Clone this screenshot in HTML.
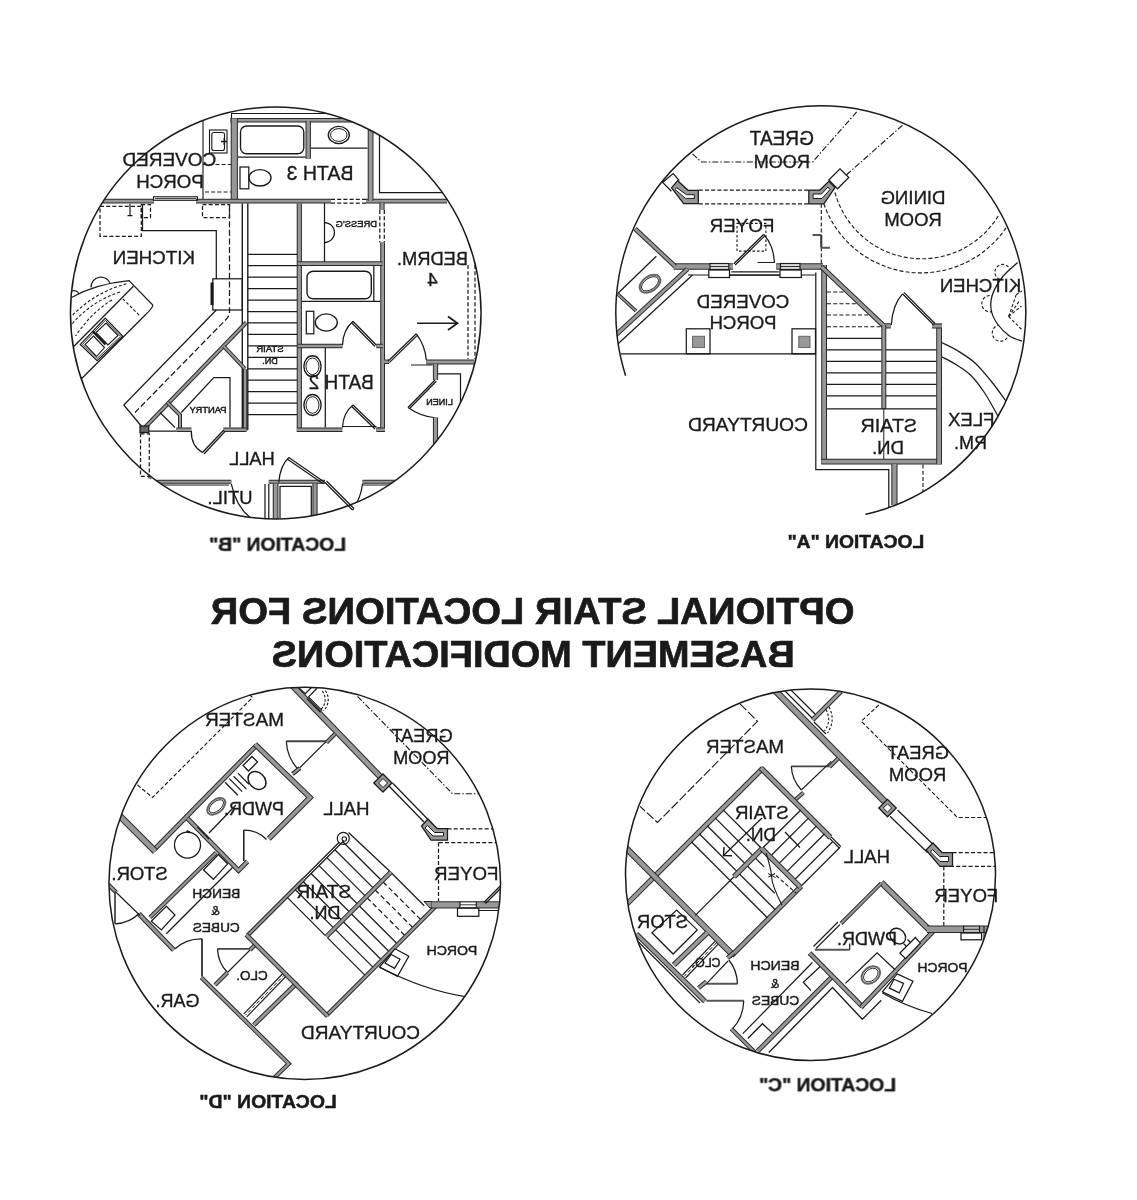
<!DOCTYPE html>
<html><head><meta charset="utf-8"><title>Optional Stair Locations</title>
<style>html,body{margin:0;padding:0;background:#fff}svg{display:block}text{font-family:"Liberation Sans",sans-serif}</style></head><body>
<svg width="1137" height="1200" viewBox="0 0 1137 1200">
<rect width="1137" height="1200" fill="#fff"/>
<g opacity="0.999">
<defs>
<clipPath id="ccircB"><ellipse cx="275.75" cy="313" rx="205.3" ry="206"/></clipPath>
<clipPath id="ccircA"><ellipse cx="820.8" cy="312.5" rx="205" ry="206.8"/></clipPath>
<clipPath id="ccircD"><ellipse cx="304.75" cy="883.45" rx="195.8" ry="196.1"/></clipPath>
<clipPath id="ccircC"><ellipse cx="810.5" cy="874.8" rx="185" ry="185.8"/></clipPath>
</defs>
<g clip-path="url(#ccircB)">
<polyline points="231.00,113.50 420.00,113.50" fill="none" stroke="#1a1a1a" stroke-width="1.125" stroke-linecap="butt" stroke-linejoin="miter"/>
<polyline points="231.50,113.50 231.50,119.00" fill="none" stroke="#1a1a1a" stroke-width="1.125" stroke-linecap="butt" stroke-linejoin="miter"/>
<polyline points="230.50,120.30 420.00,120.30" fill="none" stroke="#2a2a2a" stroke-width="4.4" stroke-linecap="butt" stroke-linejoin="miter"/><polyline points="230.50,120.30 420.00,120.30" fill="none" stroke="#989898" stroke-width="2.40" stroke-linecap="butt" stroke-linejoin="miter"/>
<polyline points="234.30,118.50 234.30,201.00" fill="none" stroke="#2a2a2a" stroke-width="7.2" stroke-linecap="butt" stroke-linejoin="miter"/><polyline points="234.30,118.50 234.30,201.00" fill="none" stroke="#989898" stroke-width="5.20" stroke-linecap="butt" stroke-linejoin="miter"/>
<polyline points="102.00,201.20 154.00,201.20" fill="none" stroke="#2a2a2a" stroke-width="4.8" stroke-linecap="butt" stroke-linejoin="miter"/><polyline points="102.00,201.20 154.00,201.20" fill="none" stroke="#989898" stroke-width="2.80" stroke-linecap="butt" stroke-linejoin="miter"/>
<polyline points="196.00,201.20 331.00,201.20" fill="none" stroke="#2a2a2a" stroke-width="4.8" stroke-linecap="butt" stroke-linejoin="miter"/><polyline points="196.00,201.20 331.00,201.20" fill="none" stroke="#989898" stroke-width="2.80" stroke-linecap="butt" stroke-linejoin="miter"/>
<polyline points="366.00,201.20 447.00,201.20" fill="none" stroke="#2a2a2a" stroke-width="4.8" stroke-linecap="butt" stroke-linejoin="miter"/><polyline points="366.00,201.20 447.00,201.20" fill="none" stroke="#989898" stroke-width="2.80" stroke-linecap="butt" stroke-linejoin="miter"/>
<polyline points="331.00,199.30 366.00,199.30" fill="none" stroke="#1a1a1a" stroke-width="1.25" stroke-dasharray="4,2.2" stroke-linecap="butt" stroke-linejoin="miter"/>
<polyline points="331.00,203.20 366.00,203.20" fill="none" stroke="#1a1a1a" stroke-width="1.25" stroke-dasharray="4,2.2" stroke-linecap="butt" stroke-linejoin="miter"/>
<rect x="153.50" y="196.80" width="44.00" height="3.50" rx="0" fill="none" stroke="#1a1a1a" stroke-width="1.125"/>
<polyline points="155.00,198.60 196.00,198.60" fill="none" stroke="#1a1a1a" stroke-width="0.875" stroke-linecap="butt" stroke-linejoin="miter"/>
<polyline points="308.20,121.00 308.20,158.80" fill="none" stroke="#2a2a2a" stroke-width="5.4" stroke-linecap="butt" stroke-linejoin="miter"/><polyline points="308.20,121.00 308.20,158.80" fill="none" stroke="#989898" stroke-width="3.40" stroke-linecap="butt" stroke-linejoin="miter"/>
<polyline points="311.00,148.00 367.50,148.00" fill="none" stroke="#1a1a1a" stroke-width="1.25" stroke-linecap="butt" stroke-linejoin="miter"/>
<polyline points="370.60,129.00 370.60,201.00" fill="none" stroke="#2a2a2a" stroke-width="5.8" stroke-linecap="butt" stroke-linejoin="miter"/><polyline points="370.60,129.00 370.60,201.00" fill="none" stroke="#989898" stroke-width="3.80" stroke-linecap="butt" stroke-linejoin="miter"/>
<polyline points="379.50,130.00 379.50,192.50 445.00,192.50" fill="none" stroke="#1a1a1a" stroke-width="1.25" stroke-linecap="butt" stroke-linejoin="miter"/>
<rect x="240.50" y="126.00" width="63.30" height="27.80" rx="6" fill="none" stroke="#1a1a1a" stroke-width="1.375"/>
<polyline points="238.00,157.00 305.50,157.00" fill="none" stroke="#1a1a1a" stroke-width="1.25" stroke-linecap="butt" stroke-linejoin="miter"/>
<rect x="240.00" y="167.00" width="8.80" height="21.80" rx="0" fill="none" stroke="#1a1a1a" stroke-width="1.25"/>
<ellipse cx="260.00" cy="177.80" rx="11.00" ry="8.20" fill="none" stroke="#1a1a1a" stroke-width="1.375"/>
<ellipse cx="338.80" cy="135.00" rx="10.50" ry="8.60" fill="none" stroke="#1a1a1a" stroke-width="1.375"/>
<ellipse cx="338.80" cy="135.00" rx="8.20" ry="6.40" fill="none" stroke="#1a1a1a" stroke-width="1.0"/>
<rect x="209.50" y="130.00" width="17.50" height="23.00" rx="0" fill="none" stroke="#1a1a1a" stroke-width="1.125"/>
<rect x="211.80" y="132.50" width="12.70" height="18.00" rx="2" fill="none" stroke="#1a1a1a" stroke-width="1.125"/>
<polyline points="221.00,141.50 227.00,141.50" fill="none" stroke="#1a1a1a" stroke-width="1.5" stroke-linecap="butt" stroke-linejoin="miter"/>
<polyline points="224.30,138.00 224.30,145.00" fill="none" stroke="#1a1a1a" stroke-width="1.5" stroke-linecap="butt" stroke-linejoin="miter"/>
<polyline points="203.00,112.00 203.00,199.00" fill="none" stroke="#1a1a1a" stroke-width="1.125" stroke-linecap="butt" stroke-linejoin="miter"/>
<polyline points="203.00,164.50 231.00,164.50" fill="none" stroke="#1a1a1a" stroke-width="1.125" stroke-dasharray="4,2.2" stroke-linecap="butt" stroke-linejoin="miter"/>
<polyline points="205.00,192.00 231.00,192.00" fill="none" stroke="#1a1a1a" stroke-width="1.125" stroke-dasharray="4,2.2" stroke-linecap="butt" stroke-linejoin="miter"/>
<polyline points="242.30,203.50 242.30,430.00" fill="none" stroke="#1a1a1a" stroke-width="1.375" stroke-linecap="butt" stroke-linejoin="miter"/>
<polyline points="247.80,203.50 247.80,430.00" fill="none" stroke="#1a1a1a" stroke-width="1.375" stroke-linecap="butt" stroke-linejoin="miter"/>
<polyline points="299.30,203.50 299.30,432.00" fill="none" stroke="#2a2a2a" stroke-width="5.2" stroke-linecap="butt" stroke-linejoin="miter"/><polyline points="299.30,203.50 299.30,432.00" fill="none" stroke="#989898" stroke-width="3.20" stroke-linecap="butt" stroke-linejoin="miter"/>
<polyline points="247.80,254.25 297.00,254.25" fill="none" stroke="#1a1a1a" stroke-width="1.25" stroke-linecap="butt" stroke-linejoin="miter"/>
<polyline points="247.80,265.70 297.00,265.70" fill="none" stroke="#1a1a1a" stroke-width="1.25" stroke-linecap="butt" stroke-linejoin="miter"/>
<polyline points="247.80,277.15 297.00,277.15" fill="none" stroke="#1a1a1a" stroke-width="1.25" stroke-linecap="butt" stroke-linejoin="miter"/>
<polyline points="247.80,288.60 297.00,288.60" fill="none" stroke="#1a1a1a" stroke-width="1.25" stroke-linecap="butt" stroke-linejoin="miter"/>
<polyline points="247.80,300.05 297.00,300.05" fill="none" stroke="#1a1a1a" stroke-width="1.25" stroke-linecap="butt" stroke-linejoin="miter"/>
<polyline points="247.80,311.50 297.00,311.50" fill="none" stroke="#1a1a1a" stroke-width="1.25" stroke-linecap="butt" stroke-linejoin="miter"/>
<polyline points="247.80,322.95 297.00,322.95" fill="none" stroke="#1a1a1a" stroke-width="1.25" stroke-linecap="butt" stroke-linejoin="miter"/>
<polyline points="247.80,334.40 297.00,334.40" fill="none" stroke="#1a1a1a" stroke-width="1.25" stroke-linecap="butt" stroke-linejoin="miter"/>
<polyline points="247.80,345.85 297.00,345.85" fill="none" stroke="#1a1a1a" stroke-width="1.25" stroke-linecap="butt" stroke-linejoin="miter"/>
<polyline points="247.80,357.30 297.00,357.30" fill="none" stroke="#1a1a1a" stroke-width="1.25" stroke-linecap="butt" stroke-linejoin="miter"/>
<polyline points="247.80,368.75 297.00,368.75" fill="none" stroke="#1a1a1a" stroke-width="1.25" stroke-linecap="butt" stroke-linejoin="miter"/>
<polyline points="247.80,380.20 297.00,380.20" fill="none" stroke="#1a1a1a" stroke-width="1.25" stroke-linecap="butt" stroke-linejoin="miter"/>
<polyline points="247.80,391.65 297.00,391.65" fill="none" stroke="#1a1a1a" stroke-width="1.25" stroke-linecap="butt" stroke-linejoin="miter"/>
<polyline points="247.80,403.10 297.00,403.10" fill="none" stroke="#1a1a1a" stroke-width="1.25" stroke-linecap="butt" stroke-linejoin="miter"/>
<polyline points="247.80,414.55 297.00,414.55" fill="none" stroke="#1a1a1a" stroke-width="1.25" stroke-linecap="butt" stroke-linejoin="miter"/>
<polyline points="245.10,369.00 245.10,431.00" fill="none" stroke="#2a2a2a" stroke-width="4.4" stroke-linecap="butt" stroke-linejoin="miter"/><polyline points="245.10,369.00 245.10,431.00" fill="none" stroke="#989898" stroke-width="2.40" stroke-linecap="butt" stroke-linejoin="miter"/>
<polyline points="223.50,429.70 246.50,429.70" fill="none" stroke="#2a2a2a" stroke-width="4.6000000000000005" stroke-linecap="butt" stroke-linejoin="miter"/><polyline points="223.50,429.70 246.50,429.70" fill="none" stroke="#989898" stroke-width="2.60" stroke-linecap="butt" stroke-linejoin="miter"/>
<polyline points="297.00,429.70 385.00,429.70" fill="none" stroke="#2a2a2a" stroke-width="4.6000000000000005" stroke-linecap="butt" stroke-linejoin="miter"/><polyline points="297.00,429.70 385.00,429.70" fill="none" stroke="#989898" stroke-width="2.60" stroke-linecap="butt" stroke-linejoin="miter"/>
<rect x="100.00" y="206.30" width="41.30" height="30.00" rx="0" fill="none" stroke="#1a1a1a" stroke-width="1.25" stroke-dasharray="4,2.2"/>
<rect x="141.30" y="204.50" width="9.20" height="13.00" rx="0" fill="none" stroke="#1a1a1a" stroke-width="1.25" stroke-dasharray="4,2.2"/>
<polyline points="130.00,204.00 130.00,215.50" fill="none" stroke="#1a1a1a" stroke-width="1.25" stroke-linecap="butt" stroke-linejoin="miter"/>
<polyline points="127.50,215.50 132.50,215.50" fill="none" stroke="#1a1a1a" stroke-width="1.25" stroke-linecap="butt" stroke-linejoin="miter"/>
<rect x="202.50" y="204.50" width="27.00" height="13.00" rx="0" fill="none" stroke="#1a1a1a" stroke-width="1.25" stroke-dasharray="4,2.2"/>
<path d="M229.5,204 L229.5,312 Q229.5,316 226,319.5 L135,412.5" fill="none" stroke="#1a1a1a" stroke-width="1.25" stroke-dasharray="6,2.6"/>
<polyline points="142.50,204.00 142.50,230.50 216.30,230.50 216.30,279.00" fill="none" stroke="#1a1a1a" stroke-width="1.25" stroke-linecap="butt" stroke-linejoin="miter"/>
<rect x="212.80" y="278.80" width="29.50" height="31.20" rx="0" fill="none" stroke="#1a1a1a" stroke-width="1.25"/>
<polyline points="212.00,282.50 212.00,305.00" fill="none" stroke="#1a1a1a" stroke-width="3.0" stroke-linecap="butt" stroke-linejoin="miter"/>
<polyline points="216.30,310.00 123.80,405.00 142.50,427.50" fill="none" stroke="#1a1a1a" stroke-width="1.25" stroke-linecap="butt" stroke-linejoin="miter"/>
<path d="M71.5,297.5 Q95,284 129,280.6 L152.8,305 Q153.5,307 144,316.3 L81.5,378.8" fill="none" stroke="#1a1a1a" stroke-width="1.25"/>
<polyline points="133.40,286.30 74.00,346.30" fill="none" stroke="#1a1a1a" stroke-width="1.25" stroke-linecap="butt" stroke-linejoin="miter"/>
<polyline points="122.80,298.80 140.30,316.30" fill="none" stroke="#1a1a1a" stroke-width="1.125" stroke-dasharray="3,2" stroke-linecap="butt" stroke-linejoin="miter"/>
<path d="M126.5,283.8 Q95,292 71.5,316.3" fill="none" stroke="#1a1a1a" stroke-width="1.125" stroke-dasharray="3,2"/>
<path d="M120,292 Q92,301 72,324" fill="none" stroke="#1a1a1a" stroke-width="1.125" stroke-dasharray="3,2"/>
<path d="M112,300 Q92,312 75.5,336" fill="none" stroke="#1a1a1a" stroke-width="1.125" stroke-dasharray="3,2"/>
<path d="M91,287.5 A10,10 0 0 1 110.5,284" fill="none" stroke="#1a1a1a" stroke-width="1.25"/>
<path d="M71.8,291 A5.5,5.5 0 0 1 79,294" fill="none" stroke="#1a1a1a" stroke-width="1.25"/>
<polygon points="105.30,318.10 122.80,336.30 97.10,360.60 80.30,344.40" fill="none" stroke="#1a1a1a" stroke-width="1.25" stroke-linecap="butt" stroke-linejoin="miter"/>
<polygon points="105.30,320.30 120.60,336.30 97.10,358.40 82.50,344.40" fill="none" stroke="#1a1a1a" stroke-width="0.875" stroke-linecap="butt" stroke-linejoin="miter"/>
<polygon points="106.00,323.00 118.00,335.50 108.00,345.00 96.00,332.50" fill="none" stroke="#1a1a1a" stroke-width="1.125" stroke-linecap="butt" stroke-linejoin="miter"/>
<polygon points="93.50,336.00 104.50,347.50 96.50,356.50 85.00,344.50" fill="none" stroke="#1a1a1a" stroke-width="1.125" stroke-linecap="butt" stroke-linejoin="miter"/>
<polyline points="93.00,331.50 105.50,344.50" fill="none" stroke="#1a1a1a" stroke-width="2.5" stroke-linecap="butt" stroke-linejoin="miter"/>
<polyline points="246.30,322.50 142.50,430.00" fill="none" stroke="#2a2a2a" stroke-width="4.2" stroke-linecap="butt" stroke-linejoin="miter"/><polyline points="246.30,322.50 142.50,430.00" fill="none" stroke="#989898" stroke-width="2.20" stroke-linecap="butt" stroke-linejoin="miter"/>
<polyline points="223.80,346.30 245.00,368.80" fill="none" stroke="#2a2a2a" stroke-width="4.0" stroke-linecap="butt" stroke-linejoin="miter"/><polyline points="223.80,346.30 245.00,368.80" fill="none" stroke="#989898" stroke-width="2.00" stroke-linecap="butt" stroke-linejoin="miter"/>
<polyline points="167.50,402.50 180.00,415.00 180.00,429.00" fill="none" stroke="#2a2a2a" stroke-width="4.0" stroke-linecap="butt" stroke-linejoin="miter"/><polyline points="167.50,402.50 180.00,415.00 180.00,429.00" fill="none" stroke="#989898" stroke-width="2.00" stroke-linecap="butt" stroke-linejoin="miter"/>
<polyline points="176.30,429.70 191.30,429.70" fill="none" stroke="#2a2a2a" stroke-width="4.6000000000000005" stroke-linecap="butt" stroke-linejoin="miter"/><polyline points="176.30,429.70 191.30,429.70" fill="none" stroke="#989898" stroke-width="2.60" stroke-linecap="butt" stroke-linejoin="miter"/>
<polyline points="160.00,412.50 175.00,427.50" fill="none" stroke="#1a1a1a" stroke-width="1.25" stroke-linecap="butt" stroke-linejoin="miter"/>
<rect x="140.00" y="426.00" width="8.80" height="6.50" rx="0" fill="#666" stroke="#1a1a1a" stroke-width="1.25"/>
<polyline points="148.80,431.00 176.00,431.00" fill="none" stroke="#1a1a1a" stroke-width="1.25" stroke-linecap="butt" stroke-linejoin="miter"/>
<polyline points="230.00,427.50 230.00,377.50 213.80,377.50 181.30,412.50" fill="none" stroke="#1a1a1a" stroke-width="1.25" stroke-linecap="butt" stroke-linejoin="miter"/>
<polyline points="223.80,430.00 202.50,452.50" fill="none" stroke="#1a1a1a" stroke-width="1.25" stroke-linecap="butt" stroke-linejoin="miter"/>
<polyline points="225.00,431.50 204.00,454.00" fill="none" stroke="#1a1a1a" stroke-width="1.25" stroke-linecap="butt" stroke-linejoin="miter"/>
<path d="M202.5,452.5 Q191,446 191.3,431" fill="none" stroke="#1a1a1a" stroke-width="1.25"/>
<polyline points="148.80,481.80 231.30,481.80" fill="none" stroke="#2a2a2a" stroke-width="4.0" stroke-linecap="butt" stroke-linejoin="miter"/><polyline points="148.80,481.80 231.30,481.80" fill="none" stroke="#989898" stroke-width="2.00" stroke-linecap="butt" stroke-linejoin="miter"/>
<polyline points="155.00,485.00 229.00,485.00" fill="none" stroke="#1a1a1a" stroke-width="1.125" stroke-linecap="butt" stroke-linejoin="miter"/>
<path d="M231.3,483.8 Q236,506 250,517.5" fill="none" stroke="#1a1a1a" stroke-width="1.25"/>
<polyline points="268.80,481.80 325.00,481.80" fill="none" stroke="#2a2a2a" stroke-width="4.0" stroke-linecap="butt" stroke-linejoin="miter"/><polyline points="268.80,481.80 325.00,481.80" fill="none" stroke="#989898" stroke-width="2.00" stroke-linecap="butt" stroke-linejoin="miter"/>
<polyline points="275.60,483.50 275.60,520.00" fill="none" stroke="#2a2a2a" stroke-width="5.7" stroke-linecap="butt" stroke-linejoin="miter"/><polyline points="275.60,483.50 275.60,520.00" fill="none" stroke="#989898" stroke-width="3.70" stroke-linecap="butt" stroke-linejoin="miter"/>
<polyline points="315.00,483.50 315.00,520.00" fill="none" stroke="#2a2a2a" stroke-width="5.2" stroke-linecap="butt" stroke-linejoin="miter"/><polyline points="315.00,483.50 315.00,520.00" fill="none" stroke="#989898" stroke-width="3.20" stroke-linecap="butt" stroke-linejoin="miter"/>
<polyline points="265.00,484.00 265.00,519.00" fill="none" stroke="#1a1a1a" stroke-width="1.25" stroke-linecap="butt" stroke-linejoin="miter"/>
<polyline points="268.80,484.00 268.80,519.00" fill="none" stroke="#1a1a1a" stroke-width="1.25" stroke-linecap="butt" stroke-linejoin="miter"/>
<polyline points="280.00,518.00 280.00,486.30 311.30,486.30 311.30,518.00" fill="none" stroke="#1a1a1a" stroke-width="1.25" stroke-linecap="butt" stroke-linejoin="miter"/>
<polyline points="325.00,482.50 288.80,457.50" fill="none" stroke="#1a1a1a" stroke-width="1.25" stroke-linecap="butt" stroke-linejoin="miter"/>
<polyline points="323.50,484.00 287.50,459.30" fill="none" stroke="#1a1a1a" stroke-width="1.25" stroke-linecap="butt" stroke-linejoin="miter"/>
<path d="M288.8,457.5 Q280,466 278.8,482.5" fill="none" stroke="#1a1a1a" stroke-width="1.25"/>
<path d="M352.5,510 Q361,498 362.5,483.8" fill="none" stroke="#1a1a1a" stroke-width="1.25"/>
<polyline points="362.50,481.80 400.00,481.80" fill="none" stroke="#2a2a2a" stroke-width="4.0" stroke-linecap="butt" stroke-linejoin="miter"/><polyline points="362.50,481.80 400.00,481.80" fill="none" stroke="#989898" stroke-width="2.00" stroke-linecap="butt" stroke-linejoin="miter"/>
<polyline points="363.00,485.00 395.00,485.00" fill="none" stroke="#1a1a1a" stroke-width="1.125" stroke-linecap="butt" stroke-linejoin="miter"/>
<polyline points="324.50,203.00 324.50,262.50" fill="none" stroke="#1a1a1a" stroke-width="1.25" stroke-linecap="butt" stroke-linejoin="miter"/>
<path d="M324.5,222.5 A10,10 0 0 1 324.5,242.5" fill="none" stroke="#1a1a1a" stroke-width="1.25"/>
<polyline points="382.00,203.00 382.00,210.00" fill="none" stroke="#2a2a2a" stroke-width="5.2" stroke-linecap="butt" stroke-linejoin="miter"/><polyline points="382.00,203.00 382.00,210.00" fill="none" stroke="#989898" stroke-width="3.20" stroke-linecap="butt" stroke-linejoin="miter"/>
<polyline points="379.80,210.00 379.80,242.50" fill="none" stroke="#1a1a1a" stroke-width="1.25" stroke-dasharray="4,2.2" stroke-linecap="butt" stroke-linejoin="miter"/>
<polyline points="384.30,210.00 384.30,242.50" fill="none" stroke="#1a1a1a" stroke-width="1.25" stroke-dasharray="4,2.2" stroke-linecap="butt" stroke-linejoin="miter"/>
<polyline points="382.60,242.50 382.60,432.00" fill="none" stroke="#2a2a2a" stroke-width="4.8" stroke-linecap="butt" stroke-linejoin="miter"/><polyline points="382.60,242.50 382.60,432.00" fill="none" stroke="#989898" stroke-width="2.80" stroke-linecap="butt" stroke-linejoin="miter"/>
<polyline points="298.00,263.60 382.50,263.60" fill="none" stroke="#2a2a2a" stroke-width="4.8" stroke-linecap="butt" stroke-linejoin="miter"/><polyline points="298.00,263.60 382.50,263.60" fill="none" stroke="#989898" stroke-width="2.80" stroke-linecap="butt" stroke-linejoin="miter"/>
<rect x="307.00" y="271.30" width="64.30" height="27.50" rx="6" fill="none" stroke="#1a1a1a" stroke-width="1.375"/>
<polyline points="302.00,301.30 380.00,301.30" fill="none" stroke="#1a1a1a" stroke-width="1.25" stroke-linecap="butt" stroke-linejoin="miter"/>
<polyline points="373.80,266.00 373.80,301.30" fill="none" stroke="#1a1a1a" stroke-width="1.25" stroke-linecap="butt" stroke-linejoin="miter"/>
<rect x="306.30" y="311.30" width="7.50" height="22.50" rx="0" fill="none" stroke="#1a1a1a" stroke-width="1.25"/>
<ellipse cx="326.30" cy="322.50" rx="11.00" ry="8.60" fill="none" stroke="#1a1a1a" stroke-width="1.375"/>
<polyline points="298.00,346.00 342.50,346.00" fill="none" stroke="#2a2a2a" stroke-width="4.6000000000000005" stroke-linecap="butt" stroke-linejoin="miter"/><polyline points="298.00,346.00 342.50,346.00" fill="none" stroke="#989898" stroke-width="2.60" stroke-linecap="butt" stroke-linejoin="miter"/>
<polyline points="376.30,346.00 383.00,346.00" fill="none" stroke="#2a2a2a" stroke-width="4.6000000000000005" stroke-linecap="butt" stroke-linejoin="miter"/><polyline points="376.30,346.00 383.00,346.00" fill="none" stroke="#989898" stroke-width="2.60" stroke-linecap="butt" stroke-linejoin="miter"/>
<polyline points="376.30,345.00 353.00,321.30" fill="none" stroke="#1a1a1a" stroke-width="1.25" stroke-linecap="butt" stroke-linejoin="miter"/>
<polyline points="375.00,346.50 351.70,322.80" fill="none" stroke="#1a1a1a" stroke-width="1.25" stroke-linecap="butt" stroke-linejoin="miter"/>
<path d="M353,321.3 Q343,330 342.5,345" fill="none" stroke="#1a1a1a" stroke-width="1.25"/>
<polyline points="325.30,348.00 325.30,427.50" fill="none" stroke="#1a1a1a" stroke-width="1.25" stroke-linecap="butt" stroke-linejoin="miter"/>
<ellipse cx="312.50" cy="366.30" rx="8.60" ry="10.50" fill="none" stroke="#1a1a1a" stroke-width="1.375"/>
<ellipse cx="312.50" cy="366.30" rx="6.50" ry="8.30" fill="none" stroke="#1a1a1a" stroke-width="1.0"/>
<ellipse cx="312.50" cy="405.00" rx="8.60" ry="10.50" fill="none" stroke="#1a1a1a" stroke-width="1.375"/>
<ellipse cx="312.50" cy="405.00" rx="6.50" ry="8.30" fill="none" stroke="#1a1a1a" stroke-width="1.0"/>
<rect x="342.50" y="420.00" width="34.50" height="15.00" rx="0" fill="#fff" stroke="none" stroke-width="0.0"/>
<polyline points="342.50,426.50 376.30,426.50" fill="none" stroke="#1a1a1a" stroke-width="1.125" stroke-linecap="butt" stroke-linejoin="miter"/>
<polyline points="376.30,429.70 385.00,429.70" fill="none" stroke="#2a2a2a" stroke-width="4.6000000000000005" stroke-linecap="butt" stroke-linejoin="miter"/><polyline points="376.30,429.70 385.00,429.70" fill="none" stroke="#989898" stroke-width="2.60" stroke-linecap="butt" stroke-linejoin="miter"/>
<polyline points="376.30,427.50 353.00,405.00" fill="none" stroke="#1a1a1a" stroke-width="1.25" stroke-linecap="butt" stroke-linejoin="miter"/>
<polyline points="375.00,429.00 351.70,406.50" fill="none" stroke="#1a1a1a" stroke-width="1.25" stroke-linecap="butt" stroke-linejoin="miter"/>
<path d="M353,405 Q343,413 342.5,427.5" fill="none" stroke="#1a1a1a" stroke-width="1.25"/>
<polyline points="384.00,361.80 389.00,361.80" fill="none" stroke="#2a2a2a" stroke-width="4.6000000000000005" stroke-linecap="butt" stroke-linejoin="miter"/><polyline points="384.00,361.80 389.00,361.80" fill="none" stroke="#989898" stroke-width="2.60" stroke-linecap="butt" stroke-linejoin="miter"/>
<polyline points="388.00,361.30 416.30,333.80" fill="none" stroke="#1a1a1a" stroke-width="1.25" stroke-linecap="butt" stroke-linejoin="miter"/>
<polyline points="389.30,362.60 417.60,335.10" fill="none" stroke="#1a1a1a" stroke-width="1.25" stroke-linecap="butt" stroke-linejoin="miter"/>
<path d="M416.3,333.8 Q425,345 426.3,360" fill="none" stroke="#1a1a1a" stroke-width="1.25"/>
<polyline points="426.30,362.00 474.00,362.00" fill="none" stroke="#2a2a2a" stroke-width="4.8" stroke-linecap="butt" stroke-linejoin="miter"/><polyline points="426.30,362.00 474.00,362.00" fill="none" stroke="#989898" stroke-width="2.80" stroke-linecap="butt" stroke-linejoin="miter"/>
<polyline points="411.00,365.00 432.50,365.00" fill="none" stroke="#1a1a1a" stroke-width="1.125" stroke-linecap="butt" stroke-linejoin="miter"/>
<polyline points="435.50,364.00 435.50,380.00" fill="none" stroke="#2a2a2a" stroke-width="5.2" stroke-linecap="butt" stroke-linejoin="miter"/><polyline points="435.50,364.00 435.50,380.00" fill="none" stroke="#989898" stroke-width="3.20" stroke-linecap="butt" stroke-linejoin="miter"/>
<polyline points="435.50,417.50 435.50,444.00" fill="none" stroke="#2a2a2a" stroke-width="5.2" stroke-linecap="butt" stroke-linejoin="miter"/><polyline points="435.50,417.50 435.50,444.00" fill="none" stroke="#989898" stroke-width="3.20" stroke-linecap="butt" stroke-linejoin="miter"/>
<polyline points="435.00,380.00 408.00,407.50" fill="none" stroke="#1a1a1a" stroke-width="1.25" stroke-linecap="butt" stroke-linejoin="miter"/>
<polyline points="436.30,381.30 409.30,408.80" fill="none" stroke="#1a1a1a" stroke-width="1.25" stroke-linecap="butt" stroke-linejoin="miter"/>
<path d="M408,407.5 Q420,416 433.8,417.5" fill="none" stroke="#1a1a1a" stroke-width="1.25"/>
<polyline points="438.00,373.80 460.50,373.80 460.50,420.00" fill="none" stroke="#1a1a1a" stroke-width="1.25" stroke-linecap="butt" stroke-linejoin="miter"/>
<polyline points="468.00,265.00 468.00,359.00" fill="none" stroke="#1a1a1a" stroke-width="1.25" stroke-dasharray="4,2.2" stroke-linecap="butt" stroke-linejoin="miter"/>
<polyline points="475.00,265.00 475.00,359.00" fill="none" stroke="#1a1a1a" stroke-width="1.25" stroke-dasharray="4,2.2" stroke-linecap="butt" stroke-linejoin="miter"/>
<polyline points="417.00,323.30 457.00,323.30" fill="none" stroke="#1a1a1a" stroke-width="1.5" stroke-linecap="butt" stroke-linejoin="miter"/>
<polyline points="448.00,316.50 457.50,323.30 448.00,330.00" fill="none" stroke="#1a1a1a" stroke-width="1.75" stroke-linecap="butt" stroke-linejoin="miter"/>
</g>
<text transform="translate(169.40,166.30) scale(-1,1)" text-anchor="middle" font-size="19" textLength="93.80" lengthAdjust="spacingAndGlyphs" stroke="#1a1a1a" stroke-width="0.35" fill="#1a1a1a">COVERED</text>
<text transform="translate(170.00,187.60) scale(-1,1)" text-anchor="middle" font-size="19" textLength="67.50" lengthAdjust="spacingAndGlyphs" stroke="#1a1a1a" stroke-width="0.35" fill="#1a1a1a">PORCH</text>
<text transform="translate(153.80,264.00) scale(-1,1)" text-anchor="middle" font-size="19" textLength="82.50" lengthAdjust="spacingAndGlyphs" stroke="#1a1a1a" stroke-width="0.35" fill="#1a1a1a">KITCHEN</text>
<text transform="translate(320.00,179.50) scale(-1,1)" text-anchor="middle" font-size="19.5" textLength="66.80" lengthAdjust="spacingAndGlyphs" stroke="#1a1a1a" stroke-width="0.35" fill="#1a1a1a">BATH 3</text>
<text transform="translate(356.30,226.70) scale(-1,1)" text-anchor="middle" font-size="9.4" textLength="41.50" lengthAdjust="spacingAndGlyphs" stroke="#1a1a1a" stroke-width="0.45" fill="#1a1a1a">DRESS'G</text>
<text transform="translate(432.50,265.00) scale(-1,1)" text-anchor="middle" font-size="19" textLength="71.00" lengthAdjust="spacingAndGlyphs" stroke="#1a1a1a" stroke-width="0.35" fill="#1a1a1a">BEDRM.</text>
<text transform="translate(432.50,286.00) scale(-1,1)" text-anchor="middle" font-size="19" stroke="#1a1a1a" stroke-width="0.35" fill="#1a1a1a">4</text>
<text transform="translate(341.30,388.50) scale(-1,1)" text-anchor="middle" font-size="19.5" textLength="65.00" lengthAdjust="spacingAndGlyphs" stroke="#1a1a1a" stroke-width="0.35" fill="#1a1a1a">BATH 2</text>
<text transform="translate(439.50,405.20) scale(-1,1)" text-anchor="middle" font-size="9.4" textLength="26.80" lengthAdjust="spacingAndGlyphs" stroke="#1a1a1a" stroke-width="0.45" fill="#1a1a1a">LINEN</text>
<text transform="translate(208.00,412.70) scale(-1,1)" text-anchor="middle" font-size="8.8" textLength="37.00" lengthAdjust="spacingAndGlyphs" stroke="#1a1a1a" stroke-width="0.45" fill="#1a1a1a">PANTRY</text>
<text transform="translate(270.00,352.00) scale(-1,1)" text-anchor="middle" font-size="9" textLength="27.50" lengthAdjust="spacingAndGlyphs" stroke="#1a1a1a" stroke-width="0.45" fill="#1a1a1a">STAIR</text>
<text transform="translate(270.00,364.30) scale(-1,1)" text-anchor="middle" font-size="9" textLength="15.50" lengthAdjust="spacingAndGlyphs" stroke="#1a1a1a" stroke-width="0.45" fill="#1a1a1a">DN.</text>
<text transform="translate(252.00,464.60) scale(-1,1)" text-anchor="middle" font-size="18.5" textLength="45.50" lengthAdjust="spacingAndGlyphs" stroke="#1a1a1a" stroke-width="0.35" fill="#1a1a1a">HALL</text>
<text transform="translate(230.00,503.50) scale(-1,1)" text-anchor="middle" font-size="18" textLength="45.00" lengthAdjust="spacingAndGlyphs" stroke="#1a1a1a" stroke-width="0.35" fill="#1a1a1a">UTIL.</text>
<rect x="140.50" y="433.80" width="8.80" height="42.50" rx="0" fill="none" stroke="#1a1a1a" stroke-width="1.25" stroke-dasharray="4,2.2"/>
<polyline points="148.00,477.50 151.50,478.50" fill="none" stroke="#666" stroke-width="1.75" stroke-linecap="butt" stroke-linejoin="miter"/>
<polyline points="325.00,482.50 352.50,510.00" fill="none" stroke="#1a1a1a" stroke-width="1.25" stroke-linecap="butt" stroke-linejoin="miter"/>
<polyline points="326.50,481.00 354.00,508.50" fill="none" stroke="#1a1a1a" stroke-width="1.25" stroke-linecap="butt" stroke-linejoin="miter"/>
<polyline points="352.50,510.00 354.00,508.50" fill="none" stroke="#1a1a1a" stroke-width="1.25" stroke-linecap="butt" stroke-linejoin="miter"/>
<ellipse cx="275.75" cy="313" rx="205.3" ry="206" fill="none" stroke="#1a1a1a" stroke-width="1.5"/>
<g clip-path="url(#ccircA)">
<polyline points="692.50,153.80 701.30,162.00 812.50,162.00 857.50,111.00" fill="none" stroke="#1a1a1a" stroke-width="1.125" stroke-dasharray="6,2,1.5,2" stroke-linecap="butt" stroke-linejoin="miter"/>
<polyline points="846.30,175.00 905.00,123.00" fill="none" stroke="#1a1a1a" stroke-width="1.125" stroke-dasharray="6,2,1.5,2" stroke-linecap="butt" stroke-linejoin="miter"/>
<polygon points="828.80,180.00 840.00,168.80 848.80,177.50 837.50,188.80" fill="none" stroke="#1a1a1a" stroke-width="1.25" stroke-linecap="butt" stroke-linejoin="miter"/>
<polyline points="679.30,180.70 673.20,173.60 662.60,182.40 671.40,191.20" fill="none" stroke="#1a1a1a" stroke-width="1.25" stroke-linecap="butt" stroke-linejoin="miter"/>
<polygon points="671.50,187.80 677.60,180.70 688.10,190.30 698.30,190.30 698.30,203.60 683.70,203.60" fill="#989898" stroke="#1a1a1a" stroke-width="1.25" stroke-linecap="butt" stroke-linejoin="miter"/>
<polygon points="676.70,187.70 686.40,194.70 694.30,194.70 694.30,198.40 685.50,198.40 675.00,189.40" fill="#fff" stroke="#1a1a1a" stroke-width="1.0" stroke-linecap="butt" stroke-linejoin="miter"/>
<polygon points="808.80,190.00 820.00,190.00 828.80,181.30 835.00,187.50 823.80,203.80 808.80,203.80" fill="#989898" stroke="#1a1a1a" stroke-width="1.25" stroke-linecap="butt" stroke-linejoin="miter"/>
<polygon points="813.00,194.00 821.50,194.00 828.00,187.00 830.00,189.50 822.00,198.50 813.00,198.50" fill="#fff" stroke="#1a1a1a" stroke-width="1.0" stroke-linecap="butt" stroke-linejoin="miter"/>
<polyline points="698.80,190.00 808.80,190.00" fill="none" stroke="#1a1a1a" stroke-width="1.25" stroke-dasharray="4,2.2" stroke-linecap="butt" stroke-linejoin="miter"/>
<polyline points="698.80,203.80 808.80,203.80" fill="none" stroke="#1a1a1a" stroke-width="1.25" stroke-dasharray="4,2.2" stroke-linecap="butt" stroke-linejoin="miter"/>
<rect x="737.00" y="223.40" width="28.90" height="27.70" rx="0" fill="none" stroke="#1a1a1a" stroke-width="1.125" stroke-dasharray="2.5,2"/>
<polyline points="733.80,263.80 763.80,234.30" fill="none" stroke="#1a1a1a" stroke-width="1.25" stroke-linecap="butt" stroke-linejoin="miter"/>
<polyline points="735.20,265.00 765.00,235.60" fill="none" stroke="#1a1a1a" stroke-width="1.25" stroke-linecap="butt" stroke-linejoin="miter"/>
<path d="M763.8,234.3 Q773.5,245 774.5,262.5" fill="none" stroke="#1a1a1a" stroke-width="1.25"/>
<polyline points="757.50,262.50 774.50,262.50" fill="none" stroke="#1a1a1a" stroke-width="1.0" stroke-linecap="butt" stroke-linejoin="miter"/>
<polyline points="821.30,203.80 821.30,263.80" fill="none" stroke="#1a1a1a" stroke-width="1.125" stroke-dasharray="4,2.2" stroke-linecap="butt" stroke-linejoin="miter"/>
<polyline points="812.50,235.00 821.30,235.00" fill="none" stroke="#555" stroke-width="2.0" stroke-linecap="butt" stroke-linejoin="miter"/>
<polyline points="821.30,235.00 821.30,247.50" fill="none" stroke="#333" stroke-width="2.0" stroke-linecap="butt" stroke-linejoin="miter"/>
<polyline points="821.30,247.80 830.00,247.80" fill="none" stroke="#555" stroke-width="2.0" stroke-linecap="butt" stroke-linejoin="miter"/>
<path d="M835.00,192.50 A89.80,89.80 0 0 0 998.80,215.00" fill="none" stroke="#1a1a1a" stroke-width="1.125" stroke-dasharray="4,2.2"/>
<path d="M823.80,203.80 A102.90,102.90 0 0 0 1006.30,227.50" fill="none" stroke="#1a1a1a" stroke-width="1.125" stroke-dasharray="4,2.2"/>
<polyline points="673.80,266.50 710.00,266.50" fill="none" stroke="#2a2a2a" stroke-width="6.7" stroke-linecap="butt" stroke-linejoin="miter"/><polyline points="673.80,266.50 710.00,266.50" fill="none" stroke="#989898" stroke-width="4.70" stroke-linecap="butt" stroke-linejoin="miter"/>
<polyline points="728.80,266.50 733.00,266.50" fill="none" stroke="#2a2a2a" stroke-width="6.7" stroke-linecap="butt" stroke-linejoin="miter"/><polyline points="728.80,266.50 733.00,266.50" fill="none" stroke="#989898" stroke-width="4.70" stroke-linecap="butt" stroke-linejoin="miter"/>
<polyline points="776.30,266.50 780.50,266.50" fill="none" stroke="#2a2a2a" stroke-width="6.7" stroke-linecap="butt" stroke-linejoin="miter"/><polyline points="776.30,266.50 780.50,266.50" fill="none" stroke="#989898" stroke-width="4.70" stroke-linecap="butt" stroke-linejoin="miter"/>
<polyline points="800.00,266.50 823.00,266.50" fill="none" stroke="#2a2a2a" stroke-width="6.7" stroke-linecap="butt" stroke-linejoin="miter"/><polyline points="800.00,266.50 823.00,266.50" fill="none" stroke="#989898" stroke-width="4.70" stroke-linecap="butt" stroke-linejoin="miter"/>
<rect x="710.00" y="263.50" width="18.80" height="6.00" rx="0" fill="#d8d8d8" stroke="#1a1a1a" stroke-width="1.125"/>
<polyline points="710.00,266.50 728.80,266.50" fill="none" stroke="#1a1a1a" stroke-width="0.875" stroke-linecap="butt" stroke-linejoin="miter"/>
<rect x="780.50" y="263.50" width="19.50" height="6.00" rx="0" fill="#d8d8d8" stroke="#1a1a1a" stroke-width="1.125"/>
<polyline points="780.50,266.50 800.00,266.50" fill="none" stroke="#1a1a1a" stroke-width="0.875" stroke-linecap="butt" stroke-linejoin="miter"/>
<rect x="708.80" y="270.00" width="20.70" height="7.50" rx="0" fill="#fff" stroke="#1a1a1a" stroke-width="1.25"/>
<rect x="780.00" y="270.00" width="21.30" height="7.50" rx="0" fill="#fff" stroke="#1a1a1a" stroke-width="1.25"/>
<polyline points="731.40,271.90 778.80,271.90" fill="none" stroke="#1a1a1a" stroke-width="1.25" stroke-linecap="butt" stroke-linejoin="miter"/>
<polyline points="729.50,275.00 780.00,275.00" fill="none" stroke="#1a1a1a" stroke-width="1.25" stroke-linecap="butt" stroke-linejoin="miter"/>
<polyline points="688.00,275.00 708.80,275.00" fill="none" stroke="#1a1a1a" stroke-width="1.125" stroke-linecap="butt" stroke-linejoin="miter"/>
<polyline points="729.50,275.00 780.00,275.00" fill="none" stroke="#1a1a1a" stroke-width="1.125" stroke-linecap="butt" stroke-linejoin="miter"/>
<polyline points="801.30,275.00 815.50,275.00" fill="none" stroke="#1a1a1a" stroke-width="1.125" stroke-linecap="butt" stroke-linejoin="miter"/>
<polyline points="635.00,228.80 675.00,266.30" fill="none" stroke="#2a2a2a" stroke-width="4.8" stroke-linecap="butt" stroke-linejoin="miter"/><polyline points="635.00,228.80 675.00,266.30" fill="none" stroke="#989898" stroke-width="2.80" stroke-linecap="butt" stroke-linejoin="miter"/>
<polyline points="687.50,269.00 612.00,338.50" fill="none" stroke="#2a2a2a" stroke-width="4.8" stroke-linecap="butt" stroke-linejoin="miter"/><polyline points="687.50,269.00 612.00,338.50" fill="none" stroke="#989898" stroke-width="2.80" stroke-linecap="butt" stroke-linejoin="miter"/>
<polyline points="692.50,275.00 614.00,347.50" fill="none" stroke="#1a1a1a" stroke-width="1.25" stroke-linecap="butt" stroke-linejoin="miter"/>
<polyline points="656.30,256.30 617.50,293.80" fill="none" stroke="#1a1a1a" stroke-width="1.25" stroke-linecap="butt" stroke-linejoin="miter"/>
<polyline points="617.50,293.80 636.00,311.00" fill="none" stroke="#2a2a2a" stroke-width="3.5999999999999996" stroke-linecap="butt" stroke-linejoin="miter"/><polyline points="617.50,293.80 636.00,311.00" fill="none" stroke="#989898" stroke-width="1.60" stroke-linecap="butt" stroke-linejoin="miter"/>
<ellipse cx="650.00" cy="283.80" rx="11.50" ry="7.40" fill="none" stroke="#666" stroke-width="2.0" transform="rotate(-35 650 283.8)"/>
<ellipse cx="650.00" cy="283.80" rx="9.60" ry="5.60" fill="none" stroke="#1a1a1a" stroke-width="0.875" transform="rotate(-35 650 283.8)"/>
<rect x="686.30" y="328.80" width="23.70" height="25.00" rx="0" fill="none" stroke="#1a1a1a" stroke-width="1.25"/>
<rect x="692.50" y="336.30" width="12.00" height="11.20" rx="0" fill="#989898" stroke="#666" stroke-width="1.0"/>
<rect x="792.00" y="328.80" width="23.50" height="25.00" rx="0" fill="none" stroke="#1a1a1a" stroke-width="1.25"/>
<rect x="798.80" y="336.30" width="11.20" height="11.20" rx="0" fill="#989898" stroke="#666" stroke-width="1.0"/>
<polyline points="621.00,353.80 815.50,353.80" fill="none" stroke="#1a1a1a" stroke-width="1.25" stroke-linecap="butt" stroke-linejoin="miter"/>
<polyline points="815.80,272.50 815.80,469.50 888.80,469.50 888.80,520.00" fill="none" stroke="#1a1a1a" stroke-width="1.25" stroke-linecap="butt" stroke-linejoin="miter"/>
<polyline points="824.10,265.00 824.10,464.00" fill="none" stroke="#2a2a2a" stroke-width="5.8" stroke-linecap="butt" stroke-linejoin="miter"/><polyline points="824.10,265.00 824.10,464.00" fill="none" stroke="#989898" stroke-width="3.80" stroke-linecap="butt" stroke-linejoin="miter"/>
<polyline points="821.30,461.60 942.00,461.60" fill="none" stroke="#2a2a2a" stroke-width="5.8" stroke-linecap="butt" stroke-linejoin="miter"/><polyline points="821.30,461.60 942.00,461.60" fill="none" stroke="#989898" stroke-width="3.80" stroke-linecap="butt" stroke-linejoin="miter"/>
<polyline points="939.10,323.80 939.10,464.00" fill="none" stroke="#2a2a2a" stroke-width="5.8" stroke-linecap="butt" stroke-linejoin="miter"/><polyline points="939.10,323.80 939.10,464.00" fill="none" stroke="#989898" stroke-width="3.80" stroke-linecap="butt" stroke-linejoin="miter"/>
<polyline points="932.00,326.00 942.00,326.00" fill="none" stroke="#2a2a2a" stroke-width="5.2" stroke-linecap="butt" stroke-linejoin="miter"/><polyline points="932.00,326.00 942.00,326.00" fill="none" stroke="#989898" stroke-width="3.20" stroke-linecap="butt" stroke-linejoin="miter"/>
<polyline points="821.50,266.80 883.80,325.80 890.70,325.80" fill="none" stroke="#2a2a2a" stroke-width="5.2" stroke-linecap="butt" stroke-linejoin="miter"/><polyline points="821.50,266.80 883.80,325.80 890.70,325.80" fill="none" stroke="#989898" stroke-width="3.20" stroke-linecap="butt" stroke-linejoin="miter"/>
<polyline points="883.80,325.00 883.80,408.80" fill="none" stroke="#2a2a2a" stroke-width="5.0" stroke-linecap="butt" stroke-linejoin="miter"/><polyline points="883.80,325.00 883.80,408.80" fill="none" stroke="#989898" stroke-width="3.00" stroke-linecap="butt" stroke-linejoin="miter"/>
<polyline points="883.80,408.80 883.80,459.00" fill="none" stroke="#1a1a1a" stroke-width="1.0" stroke-linecap="butt" stroke-linejoin="miter"/>
<polyline points="827.00,292.00 845.00,292.00" fill="none" stroke="#1a1a1a" stroke-width="1.125" stroke-dasharray="4,2.2" stroke-linecap="butt" stroke-linejoin="miter"/>
<polyline points="827.00,303.80 857.50,303.80" fill="none" stroke="#1a1a1a" stroke-width="1.125" stroke-dasharray="4,2.2" stroke-linecap="butt" stroke-linejoin="miter"/>
<polyline points="827.00,315.00 869.50,315.00" fill="none" stroke="#1a1a1a" stroke-width="1.125" stroke-dasharray="4,2.2" stroke-linecap="butt" stroke-linejoin="miter"/>
<polyline points="827.00,326.80 881.00,326.80" fill="none" stroke="#1a1a1a" stroke-width="1.125" stroke-dasharray="4,2.2" stroke-linecap="butt" stroke-linejoin="miter"/>
<polyline points="827.00,338.30 881.50,338.30" fill="none" stroke="#1a1a1a" stroke-width="1.25" stroke-linecap="butt" stroke-linejoin="miter"/>
<polyline points="827.00,349.80 881.50,349.80" fill="none" stroke="#1a1a1a" stroke-width="1.25" stroke-linecap="butt" stroke-linejoin="miter"/>
<polyline points="827.00,361.30 881.50,361.30" fill="none" stroke="#1a1a1a" stroke-width="1.25" stroke-linecap="butt" stroke-linejoin="miter"/>
<polyline points="827.00,372.80 881.50,372.80" fill="none" stroke="#1a1a1a" stroke-width="1.25" stroke-linecap="butt" stroke-linejoin="miter"/>
<polyline points="827.00,384.30 881.50,384.30" fill="none" stroke="#1a1a1a" stroke-width="1.25" stroke-linecap="butt" stroke-linejoin="miter"/>
<polyline points="827.00,395.80 881.50,395.80" fill="none" stroke="#1a1a1a" stroke-width="1.25" stroke-linecap="butt" stroke-linejoin="miter"/>
<polyline points="886.00,349.80 936.30,349.80" fill="none" stroke="#1a1a1a" stroke-width="1.25" stroke-linecap="butt" stroke-linejoin="miter"/>
<polyline points="886.00,361.30 936.30,361.30" fill="none" stroke="#1a1a1a" stroke-width="1.25" stroke-linecap="butt" stroke-linejoin="miter"/>
<polyline points="886.00,372.80 936.30,372.80" fill="none" stroke="#1a1a1a" stroke-width="1.25" stroke-linecap="butt" stroke-linejoin="miter"/>
<polyline points="886.00,384.30 936.30,384.30" fill="none" stroke="#1a1a1a" stroke-width="1.25" stroke-linecap="butt" stroke-linejoin="miter"/>
<polyline points="886.00,395.80 936.30,395.80" fill="none" stroke="#1a1a1a" stroke-width="1.25" stroke-linecap="butt" stroke-linejoin="miter"/>
<polyline points="827.00,408.80 936.30,408.80" fill="none" stroke="#1a1a1a" stroke-width="1.25" stroke-linecap="butt" stroke-linejoin="miter"/>
<polyline points="933.80,325.00 902.50,293.80" fill="none" stroke="#1a1a1a" stroke-width="1.25" stroke-linecap="butt" stroke-linejoin="miter"/>
<polyline points="935.20,323.70 904.00,292.40" fill="none" stroke="#1a1a1a" stroke-width="1.25" stroke-linecap="butt" stroke-linejoin="miter"/>
<path d="M902.5,293.8 Q892.5,305 891.3,325" fill="none" stroke="#1a1a1a" stroke-width="1.25"/>
<polyline points="894.40,464.00 894.40,505.00" fill="none" stroke="#2a2a2a" stroke-width="6.2" stroke-linecap="butt" stroke-linejoin="miter"/><polyline points="894.40,464.00 894.40,505.00" fill="none" stroke="#989898" stroke-width="4.20" stroke-linecap="butt" stroke-linejoin="miter"/>
<polyline points="923.00,464.50 923.00,491.50" fill="none" stroke="#1a1a1a" stroke-width="1.125" stroke-dasharray="4,2.2" stroke-linecap="butt" stroke-linejoin="miter"/>
<path d="M942.00,342.70 C944.67,344.08 952.50,347.62 958.00,351.00 C963.50,354.38 969.50,358.00 975.00,363.00 C980.50,368.00 986.00,374.88 991.00,381.00 C996.00,387.12 1001.50,394.87 1005.00,399.70 C1008.50,404.53 1010.83,408.28 1012.00,410.00" fill="none" stroke="#1a1a1a" stroke-width="1.25"/>
<path d="M942.00,357.00 C944.33,358.25 951.25,361.50 956.00,364.50 C960.75,367.50 965.83,370.42 970.50,375.00 C975.17,379.58 979.75,385.75 984.00,392.00 C988.25,398.25 993.33,407.83 996.00,412.50 C998.67,417.17 999.33,418.75 1000.00,420.00" fill="none" stroke="#1a1a1a" stroke-width="1.25"/>
<ellipse cx="1002.70" cy="272.20" rx="7.80" ry="7.80" fill="none" stroke="#1a1a1a" stroke-width="1.125" stroke-dasharray="3,2"/>
<ellipse cx="990.00" cy="303.70" rx="8.20" ry="8.20" fill="none" stroke="#1a1a1a" stroke-width="1.125" stroke-dasharray="3,2"/>
<ellipse cx="1000.50" cy="333.00" rx="8.20" ry="8.20" fill="none" stroke="#1a1a1a" stroke-width="1.125" stroke-dasharray="3,2"/>
<path d="M1017.70,262.50 C1015.08,265.00 1006.25,272.00 1002.00,277.50 C997.75,283.00 993.98,290.00 992.20,295.50 C990.42,301.00 990.42,305.75 991.30,310.50 C992.18,315.25 994.47,319.75 997.50,324.00 C1000.53,328.25 1005.38,333.13 1009.50,336.00 C1013.62,338.87 1016.28,339.70 1022.20,341.20 C1028.12,342.70 1041.20,359.37 1045.00,345.00 C1048.80,330.63 1045.00,270.00 1045.00,255.00 Z" fill="#fff" stroke="none" stroke-width="0.0"/>
<path d="M1017.70,262.50 C1015.08,265.00 1006.25,272.00 1002.00,277.50 C997.75,283.00 993.98,290.00 992.20,295.50 C990.42,301.00 990.42,305.75 991.30,310.50 C992.18,315.25 994.47,319.75 997.50,324.00 C1000.53,328.25 1005.38,333.13 1009.50,336.00 C1013.62,338.87 1020.08,340.33 1022.20,341.20" fill="none" stroke="#1a1a1a" stroke-width="1.25"/>
<polyline points="1008.70,316.50 1016.20,294.70" fill="none" stroke="#1a1a1a" stroke-width="1.125" stroke-dasharray="3,2" stroke-linecap="butt" stroke-linejoin="miter"/>
<polyline points="1008.70,316.50 1020.00,300.00" fill="none" stroke="#1a1a1a" stroke-width="1.125" stroke-dasharray="3,2" stroke-linecap="butt" stroke-linejoin="miter"/>
<polyline points="1008.70,316.50 1021.50,306.00" fill="none" stroke="#1a1a1a" stroke-width="1.125" stroke-dasharray="3,2" stroke-linecap="butt" stroke-linejoin="miter"/>
<polyline points="1008.70,316.50 1022.20,330.00" fill="none" stroke="#1a1a1a" stroke-width="1.125" stroke-dasharray="3,2" stroke-linecap="butt" stroke-linejoin="miter"/>
<polyline points="1016.20,294.70 1022.00,291.00" fill="none" stroke="#1a1a1a" stroke-width="1.125" stroke-dasharray="3,2" stroke-linecap="butt" stroke-linejoin="miter"/>
</g>
<text transform="translate(781.80,145.40) scale(-1,1)" text-anchor="middle" font-size="19.3" textLength="64.20" lengthAdjust="spacingAndGlyphs" stroke="#1a1a1a" stroke-width="0.35" fill="#1a1a1a">GREAT</text>
<text transform="translate(781.80,167.60) scale(-1,1)" text-anchor="middle" font-size="19" textLength="56.30" lengthAdjust="spacingAndGlyphs" stroke="#1a1a1a" stroke-width="0.35" fill="#1a1a1a">ROOM</text>
<text transform="translate(742.00,231.80) scale(-1,1)" text-anchor="middle" font-size="19" textLength="65.00" lengthAdjust="spacingAndGlyphs" stroke="#1a1a1a" stroke-width="0.35" fill="#1a1a1a">FOYER</text>
<text transform="translate(913.00,203.80) scale(-1,1)" text-anchor="middle" font-size="19" textLength="65.00" lengthAdjust="spacingAndGlyphs" stroke="#1a1a1a" stroke-width="0.35" fill="#1a1a1a">DINING</text>
<text transform="translate(913.00,225.60) scale(-1,1)" text-anchor="middle" font-size="19" textLength="57.50" lengthAdjust="spacingAndGlyphs" stroke="#1a1a1a" stroke-width="0.35" fill="#1a1a1a">ROOM</text>
<text transform="translate(980.50,292.40) scale(-1,1)" text-anchor="middle" font-size="19" textLength="81.30" lengthAdjust="spacingAndGlyphs" stroke="#1a1a1a" stroke-width="0.35" fill="#1a1a1a">KITCHEN</text>
<text transform="translate(743.00,308.00) scale(-1,1)" text-anchor="middle" font-size="19" textLength="92.50" lengthAdjust="spacingAndGlyphs" stroke="#1a1a1a" stroke-width="0.35" fill="#1a1a1a">COVERED</text>
<text transform="translate(743.00,329.30) scale(-1,1)" text-anchor="middle" font-size="19" textLength="67.00" lengthAdjust="spacingAndGlyphs" stroke="#1a1a1a" stroke-width="0.35" fill="#1a1a1a">PORCH</text>
<text transform="translate(748.00,430.50) scale(-1,1)" text-anchor="middle" font-size="19" textLength="120.00" lengthAdjust="spacingAndGlyphs" stroke="#1a1a1a" stroke-width="0.35" fill="#1a1a1a">COURTYARD</text>
<text transform="translate(888.80,432.40) scale(-1,1)" text-anchor="middle" font-size="19" textLength="56.50" lengthAdjust="spacingAndGlyphs" stroke="#1a1a1a" stroke-width="0.35" fill="#1a1a1a">STAIR</text>
<text transform="translate(888.00,454.40) scale(-1,1)" text-anchor="middle" font-size="19" textLength="31.80" lengthAdjust="spacingAndGlyphs" stroke="#1a1a1a" stroke-width="0.35" fill="#1a1a1a">DN.</text>
<text transform="translate(971.30,426.30) scale(-1,1)" text-anchor="middle" font-size="19" textLength="46.50" lengthAdjust="spacingAndGlyphs" stroke="#1a1a1a" stroke-width="0.35" fill="#1a1a1a">FLEX</text>
<text transform="translate(970.50,448.80) scale(-1,1)" text-anchor="middle" font-size="19" textLength="32.80" lengthAdjust="spacingAndGlyphs" stroke="#1a1a1a" stroke-width="0.35" fill="#1a1a1a">RM.</text>
<g clip-path="url(#ccircD)">
<polyline points="287.00,680.00 381.00,777.50" fill="none" stroke="#2a2a2a" stroke-width="6.3999999999999995" stroke-linecap="butt" stroke-linejoin="miter"/><polyline points="287.00,680.00 381.00,777.50" fill="none" stroke="#989898" stroke-width="4.40" stroke-linecap="butt" stroke-linejoin="miter"/>
<polyline points="299.00,688.00 305.30,693.70 311.50,687.50" fill="none" stroke="#1a1a1a" stroke-width="1.25" stroke-linecap="butt" stroke-linejoin="miter"/>
<polyline points="308.50,696.90 317.00,688.30" fill="none" stroke="#1a1a1a" stroke-width="1.25" stroke-linecap="butt" stroke-linejoin="miter"/>
<polyline points="308.50,696.90 322.20,710.60" fill="none" stroke="#1a1a1a" stroke-width="1.25" stroke-linecap="butt" stroke-linejoin="miter"/>
<polyline points="306.80,698.60 320.50,712.30" fill="none" stroke="#1a1a1a" stroke-width="1.25" stroke-linecap="butt" stroke-linejoin="miter"/>
<path d="M325.4,690.6 Q332,701 323.5,711" fill="none" stroke="#1a1a1a" stroke-width="1.125" stroke-dasharray="2.5,1.8"/>
<path d="M322.4,691 Q328.5,701 321,709.5" fill="none" stroke="#1a1a1a" stroke-width="1.125" stroke-dasharray="2.5,1.8"/>
<polygon points="373.80,783.00 383.00,774.00 392.00,783.00 383.00,792.00" fill="#989898" stroke="#1a1a1a" stroke-width="1.25" stroke-linecap="butt" stroke-linejoin="miter"/>
<polygon points="378.50,783.00 383.00,778.50 387.50,783.00 383.00,787.50" fill="#fff" stroke="#1a1a1a" stroke-width="1.0" stroke-linecap="butt" stroke-linejoin="miter"/>
<polyline points="389.00,786.00 424.00,822.00" fill="none" stroke="#1a1a1a" stroke-width="1.25" stroke-linecap="butt" stroke-linejoin="miter"/>
<polyline points="392.50,783.00 428.00,819.50" fill="none" stroke="#1a1a1a" stroke-width="1.25" stroke-linecap="butt" stroke-linejoin="miter"/>
<polygon points="421.50,826.00 428.00,819.00 437.00,828.50 447.50,828.50 447.50,840.00 431.00,840.00" fill="#989898" stroke="#1a1a1a" stroke-width="1.25" stroke-linecap="butt" stroke-linejoin="miter"/>
<polygon points="427.50,825.50 434.50,832.50 443.50,832.50 443.50,836.00 433.00,836.00 425.00,828.00" fill="#fff" stroke="#1a1a1a" stroke-width="1.0" stroke-linecap="butt" stroke-linejoin="miter"/>
<polyline points="447.50,828.80 500.00,828.80" fill="none" stroke="#1a1a1a" stroke-width="1.25" stroke-dasharray="4,2.2" stroke-linecap="butt" stroke-linejoin="miter"/>
<polyline points="438.80,842.50 500.00,842.50" fill="none" stroke="#1a1a1a" stroke-width="1.25" stroke-dasharray="4,2.2" stroke-linecap="butt" stroke-linejoin="miter"/>
<polyline points="438.50,842.50 438.50,901.30" fill="none" stroke="#1a1a1a" stroke-width="1.25" stroke-dasharray="4,2.2" stroke-linecap="butt" stroke-linejoin="miter"/>
<polyline points="357.50,696.30 452.50,793.80 480.00,793.80" fill="none" stroke="#1a1a1a" stroke-width="1.125" stroke-dasharray="6,2,1.5,2" stroke-linecap="butt" stroke-linejoin="miter"/>
<polyline points="286.30,741.30 327.50,741.30" fill="none" stroke="#444" stroke-width="2.0" stroke-linecap="butt" stroke-linejoin="miter"/>
<path d="M286.3,741.3 Q287,757 297.5,768.8" fill="none" stroke="#1a1a1a" stroke-width="1.25"/>
<polyline points="297.50,770.00 333.80,733.80" fill="none" stroke="#1a1a1a" stroke-width="1.125" stroke-linecap="butt" stroke-linejoin="miter"/>
<polyline points="326.50,742.50 335.00,734.00" fill="none" stroke="#2a2a2a" stroke-width="4.2" stroke-linecap="butt" stroke-linejoin="miter"/><polyline points="326.50,742.50 335.00,734.00" fill="none" stroke="#989898" stroke-width="2.20" stroke-linecap="butt" stroke-linejoin="miter"/>
<polyline points="292.50,774.00 300.00,768.00" fill="none" stroke="#2a2a2a" stroke-width="4.2" stroke-linecap="butt" stroke-linejoin="miter"/><polyline points="292.50,774.00 300.00,768.00" fill="none" stroke="#989898" stroke-width="2.20" stroke-linecap="butt" stroke-linejoin="miter"/>
<polyline points="137.50,785.00 152.50,797.50 252.50,697.50 243.00,688.00" fill="none" stroke="#1a1a1a" stroke-width="1.125" stroke-dasharray="4,2.2" stroke-linecap="butt" stroke-linejoin="miter"/>
<polyline points="153.80,850.00 256.30,745.50" fill="none" stroke="#2a2a2a" stroke-width="4.8" stroke-linecap="butt" stroke-linejoin="miter"/><polyline points="153.80,850.00 256.30,745.50" fill="none" stroke="#989898" stroke-width="2.80" stroke-linecap="butt" stroke-linejoin="miter"/>
<polyline points="119.50,815.70 155.20,851.40" fill="none" stroke="#2a2a2a" stroke-width="6.8" stroke-linecap="butt" stroke-linejoin="miter"/><polyline points="119.50,815.70 155.20,851.40" fill="none" stroke="#989898" stroke-width="4.80" stroke-linecap="butt" stroke-linejoin="miter"/>
<polyline points="255.00,744.30 310.00,797.50 268.80,838.80" fill="none" stroke="#2a2a2a" stroke-width="5.6" stroke-linecap="butt" stroke-linejoin="miter"/><polyline points="255.00,744.30 310.00,797.50 268.80,838.80" fill="none" stroke="#989898" stroke-width="3.60" stroke-linecap="butt" stroke-linejoin="miter"/>
<polyline points="187.50,818.50 238.50,870.50 247.50,861.50" fill="none" stroke="#2a2a2a" stroke-width="4.8" stroke-linecap="butt" stroke-linejoin="miter"/><polyline points="187.50,818.50 238.50,870.50 247.50,861.50" fill="none" stroke="#989898" stroke-width="2.80" stroke-linecap="butt" stroke-linejoin="miter"/>
<polyline points="243.80,830.00 243.80,861.00" fill="none" stroke="#1a1a1a" stroke-width="1.5" stroke-linecap="butt" stroke-linejoin="miter"/>
<path d="M243.8,830 Q258,830 266.5,839.5" fill="none" stroke="#1a1a1a" stroke-width="1.25"/>
<polyline points="209.00,833.00 236.00,805.00" fill="none" stroke="#1a1a1a" stroke-width="1.25" stroke-linecap="butt" stroke-linejoin="miter"/>
<polyline points="197.50,827.00 209.00,839.00" fill="none" stroke="#1a1a1a" stroke-width="1.25" stroke-linecap="butt" stroke-linejoin="miter"/>
<ellipse cx="216.30" cy="806.30" rx="10.50" ry="6.40" fill="none" stroke="#666" stroke-width="2.0" transform="rotate(-40 216.3 806.3)"/>
<ellipse cx="216.30" cy="806.30" rx="8.60" ry="4.60" fill="none" stroke="#1a1a1a" stroke-width="0.875" transform="rotate(-40 216.3 806.3)"/>
<ellipse cx="257.00" cy="780.50" rx="10.00" ry="7.80" fill="none" stroke="#1a1a1a" stroke-width="1.5" transform="rotate(45 257 780.5)"/>
<polygon points="243.00,765.50 252.00,756.50 257.50,762.00 248.50,771.00" fill="none" stroke="#1a1a1a" stroke-width="1.25" stroke-linecap="butt" stroke-linejoin="miter"/>
<polyline points="225.00,782.30 237.90,795.30" fill="none" stroke="#1a1a1a" stroke-width="1.25" stroke-linecap="butt" stroke-linejoin="miter"/>
<polyline points="229.30,778.60 242.20,791.60" fill="none" stroke="#1a1a1a" stroke-width="1.25" stroke-linecap="butt" stroke-linejoin="miter"/>
<polyline points="233.60,776.20 246.50,789.10" fill="none" stroke="#1a1a1a" stroke-width="1.25" stroke-linecap="butt" stroke-linejoin="miter"/>
<polyline points="237.90,773.10 249.00,784.20" fill="none" stroke="#1a1a1a" stroke-width="1.25" stroke-linecap="butt" stroke-linejoin="miter"/>
<ellipse cx="187.50" cy="845.00" rx="13.00" ry="13.00" fill="none" stroke="#1a1a1a" stroke-width="1.25"/>
<polyline points="186.50,831.00 190.00,832.50" fill="none" stroke="#1a1a1a" stroke-width="2.0" stroke-linecap="butt" stroke-linejoin="miter"/>
<polyline points="216.30,852.50 150.00,917.50" fill="none" stroke="#2a2a2a" stroke-width="4.4" stroke-linecap="butt" stroke-linejoin="miter"/><polyline points="216.30,852.50 150.00,917.50" fill="none" stroke="#989898" stroke-width="2.40" stroke-linecap="butt" stroke-linejoin="miter"/>
<polyline points="232.50,867.50 166.30,933.80" fill="none" stroke="#1a1a1a" stroke-width="1.25" stroke-linecap="butt" stroke-linejoin="miter"/>
<polygon points="218.40,854.50 227.60,863.80 213.40,879.30 203.50,870.00" fill="none" stroke="#1a1a1a" stroke-width="1.25" stroke-linecap="butt" stroke-linejoin="miter"/>
<polygon points="166.30,906.30 175.00,915.00 161.30,930.00 151.30,921.30" fill="none" stroke="#1a1a1a" stroke-width="1.25" stroke-linecap="butt" stroke-linejoin="miter"/>
<polyline points="138.80,913.80 173.80,950.00" fill="none" stroke="#2a2a2a" stroke-width="5.0" stroke-linecap="butt" stroke-linejoin="miter"/><polyline points="138.80,913.80 173.80,950.00" fill="none" stroke="#989898" stroke-width="3.00" stroke-linecap="butt" stroke-linejoin="miter"/>
<polyline points="108.00,884.30 116.30,892.50" fill="none" stroke="#2a2a2a" stroke-width="4.4" stroke-linecap="butt" stroke-linejoin="miter"/><polyline points="108.00,884.30 116.30,892.50" fill="none" stroke="#989898" stroke-width="2.40" stroke-linecap="butt" stroke-linejoin="miter"/>
<polyline points="115.00,891.00 115.00,923.80" fill="none" stroke="#444" stroke-width="1.75" stroke-linecap="butt" stroke-linejoin="miter"/>
<path d="M115,923.8 Q130,923 139,913.5" fill="none" stroke="#1a1a1a" stroke-width="1.25"/>
<polyline points="116.30,892.50 140.00,915.50" fill="none" stroke="#1a1a1a" stroke-width="1.125" stroke-linecap="butt" stroke-linejoin="miter"/>
<polyline points="202.00,938.80 202.00,976.50" fill="none" stroke="#2a2a2a" stroke-width="2.0" stroke-linecap="butt" stroke-linejoin="miter"/><polyline points="202.00,938.80 202.00,976.50" fill="none" stroke="#989898" stroke-width="0.50" stroke-linecap="butt" stroke-linejoin="miter"/>
<path d="M175,948.8 Q186,938.5 202,938.8" fill="none" stroke="#1a1a1a" stroke-width="1.25"/>
<polyline points="201.30,977.50 288.80,1063.80 274.00,1078.00" fill="none" stroke="#2a2a2a" stroke-width="4.4" stroke-linecap="butt" stroke-linejoin="miter"/><polyline points="201.30,977.50 288.80,1063.80 274.00,1078.00" fill="none" stroke="#989898" stroke-width="2.40" stroke-linecap="butt" stroke-linejoin="miter"/>
<polyline points="217.50,948.80 250.00,948.80" fill="none" stroke="#444" stroke-width="1.75" stroke-linecap="butt" stroke-linejoin="miter"/>
<path d="M217.5,948.8 Q218,963 227.5,972.5" fill="none" stroke="#1a1a1a" stroke-width="1.25"/>
<polyline points="227.50,972.50 250.00,950.00" fill="none" stroke="#1a1a1a" stroke-width="1.125" stroke-linecap="butt" stroke-linejoin="miter"/>
<polyline points="215.00,985.00 227.50,972.50" fill="none" stroke="#2a2a2a" stroke-width="4.4" stroke-linecap="butt" stroke-linejoin="miter"/><polyline points="215.00,985.00 227.50,972.50" fill="none" stroke="#989898" stroke-width="2.40" stroke-linecap="butt" stroke-linejoin="miter"/>
<polyline points="250.00,950.00 256.00,944.00" fill="none" stroke="#2a2a2a" stroke-width="4.4" stroke-linecap="butt" stroke-linejoin="miter"/><polyline points="250.00,950.00 256.00,944.00" fill="none" stroke="#989898" stroke-width="2.40" stroke-linecap="butt" stroke-linejoin="miter"/>
<polyline points="297.50,982.50 253.80,1025.00" fill="none" stroke="#2a2a2a" stroke-width="4.8" stroke-linecap="butt" stroke-linejoin="miter"/><polyline points="297.50,982.50 253.80,1025.00" fill="none" stroke="#989898" stroke-width="2.80" stroke-linecap="butt" stroke-linejoin="miter"/>
<polyline points="283.80,972.50 243.80,1013.80" fill="none" stroke="#1a1a1a" stroke-width="1.125" stroke-linecap="butt" stroke-linejoin="miter"/>
<polyline points="286.80,975.50 246.80,1016.80" fill="none" stroke="#1a1a1a" stroke-width="1.125" stroke-linecap="butt" stroke-linejoin="miter"/>
<polyline points="285.30,974.00 245.30,1015.30" fill="none" stroke="#1a1a1a" stroke-width="1.0" stroke-dasharray="4,2.2" stroke-linecap="butt" stroke-linejoin="miter"/>
<ellipse cx="343.30" cy="838.40" rx="6.00" ry="6.00" fill="none" stroke="#1a1a1a" stroke-width="1.25"/>
<ellipse cx="344.30" cy="839.00" rx="2.20" ry="2.20" fill="none" stroke="#1a1a1a" stroke-width="1.125"/>
<polyline points="348.50,832.50 390.25,871.75 424.25,905.75" fill="none" stroke="#1a1a1a" stroke-width="1.25" stroke-linecap="butt" stroke-linejoin="miter"/>
<polyline points="339.20,842.20 246.45,934.95" fill="none" stroke="#1a1a1a" stroke-width="1.25" stroke-linecap="butt" stroke-linejoin="miter"/>
<polyline points="343.80,840.80 248.05,936.55" fill="none" stroke="#1a1a1a" stroke-width="1.25" stroke-linecap="butt" stroke-linejoin="miter"/>
<polyline points="304.00,879.00 247.25,935.75" fill="none" stroke="#2a2a2a" stroke-width="4.2" stroke-linecap="butt" stroke-linejoin="miter"/><polyline points="304.00,879.00 247.25,935.75" fill="none" stroke="#989898" stroke-width="2.20" stroke-linecap="butt" stroke-linejoin="miter"/>
<polyline points="342.85,841.75 381.05,879.95" fill="none" stroke="#1a1a1a" stroke-width="1.25" stroke-linecap="butt" stroke-linejoin="miter"/>
<polyline points="383.05,881.95 420.55,919.45" fill="none" stroke="#1a1a1a" stroke-width="1.25" stroke-dasharray="5,3" stroke-linecap="butt" stroke-linejoin="miter"/>
<polyline points="334.90,849.70 373.10,887.90" fill="none" stroke="#1a1a1a" stroke-width="1.25" stroke-linecap="butt" stroke-linejoin="miter"/>
<polyline points="375.10,889.90 412.60,927.40" fill="none" stroke="#1a1a1a" stroke-width="1.25" stroke-dasharray="5,3" stroke-linecap="butt" stroke-linejoin="miter"/>
<polyline points="326.95,857.65 365.15,895.85" fill="none" stroke="#1a1a1a" stroke-width="1.25" stroke-linecap="butt" stroke-linejoin="miter"/>
<polyline points="367.15,897.85 404.65,935.35" fill="none" stroke="#1a1a1a" stroke-width="1.25" stroke-dasharray="5,3" stroke-linecap="butt" stroke-linejoin="miter"/>
<polyline points="319.00,865.60 357.20,903.80" fill="none" stroke="#1a1a1a" stroke-width="1.25" stroke-linecap="butt" stroke-linejoin="miter"/>
<polyline points="359.20,905.80 396.70,943.30" fill="none" stroke="#1a1a1a" stroke-width="1.25" stroke-linecap="butt" stroke-linejoin="miter"/>
<polyline points="311.05,873.55 349.25,911.75" fill="none" stroke="#1a1a1a" stroke-width="1.25" stroke-linecap="butt" stroke-linejoin="miter"/>
<polyline points="351.25,913.75 388.75,951.25" fill="none" stroke="#1a1a1a" stroke-width="1.25" stroke-linecap="butt" stroke-linejoin="miter"/>
<polyline points="303.10,881.50 341.30,919.70" fill="none" stroke="#1a1a1a" stroke-width="1.25" stroke-linecap="butt" stroke-linejoin="miter"/>
<polyline points="343.30,921.70 380.80,959.20" fill="none" stroke="#1a1a1a" stroke-width="1.25" stroke-linecap="butt" stroke-linejoin="miter"/>
<polyline points="295.15,889.45 333.35,927.65" fill="none" stroke="#1a1a1a" stroke-width="1.25" stroke-linecap="butt" stroke-linejoin="miter"/>
<polyline points="335.35,929.65 372.85,967.15" fill="none" stroke="#1a1a1a" stroke-width="1.25" stroke-linecap="butt" stroke-linejoin="miter"/>
<polyline points="287.20,897.40 325.40,935.60" fill="none" stroke="#1a1a1a" stroke-width="1.25" stroke-linecap="butt" stroke-linejoin="miter"/>
<polyline points="327.40,937.60 364.90,975.10" fill="none" stroke="#1a1a1a" stroke-width="1.25" stroke-linecap="butt" stroke-linejoin="miter"/>
<polyline points="391.00,872.00 326.40,936.60" fill="none" stroke="#2a2a2a" stroke-width="4.8" stroke-linecap="butt" stroke-linejoin="miter"/><polyline points="391.00,872.00 326.40,936.60" fill="none" stroke="#989898" stroke-width="2.80" stroke-linecap="butt" stroke-linejoin="miter"/>
<polyline points="439.00,903.00 326.75,1015.25" fill="none" stroke="#2a2a2a" stroke-width="4.4" stroke-linecap="butt" stroke-linejoin="miter"/><polyline points="439.00,903.00 326.75,1015.25" fill="none" stroke="#989898" stroke-width="2.40" stroke-linecap="butt" stroke-linejoin="miter"/>
<polyline points="246.25,934.75 327.75,1016.25" fill="none" stroke="#2a2a2a" stroke-width="4.6" stroke-linecap="butt" stroke-linejoin="miter"/><polyline points="246.25,934.75 327.75,1016.25" fill="none" stroke="#989898" stroke-width="2.60" stroke-linecap="butt" stroke-linejoin="miter"/>
<polygon points="424.00,901.50 432.00,901.50 432.00,908.00 430.00,908.00" fill="#989898" stroke="#1a1a1a" stroke-width="1.0" stroke-linecap="butt" stroke-linejoin="miter"/>
<polyline points="432.00,904.80 460.00,904.80" fill="none" stroke="#2a2a2a" stroke-width="7.2" stroke-linecap="butt" stroke-linejoin="miter"/><polyline points="432.00,904.80 460.00,904.80" fill="none" stroke="#989898" stroke-width="5.20" stroke-linecap="butt" stroke-linejoin="miter"/>
<polyline points="476.30,904.80 500.00,904.80" fill="none" stroke="#2a2a2a" stroke-width="7.2" stroke-linecap="butt" stroke-linejoin="miter"/><polyline points="476.30,904.80 500.00,904.80" fill="none" stroke="#989898" stroke-width="5.20" stroke-linecap="butt" stroke-linejoin="miter"/>
<rect x="460.00" y="901.80" width="16.30" height="6.00" rx="0" fill="#fff" stroke="#1a1a1a" stroke-width="1.125"/>
<polyline points="460.00,904.80 476.30,904.80" fill="none" stroke="#1a1a1a" stroke-width="0.875" stroke-linecap="butt" stroke-linejoin="miter"/>
<rect x="457.50" y="908.20" width="21.30" height="8.10" rx="0" fill="#fff" stroke="#1a1a1a" stroke-width="1.25"/>
<polyline points="483.80,902.50 500.00,886.30" fill="none" stroke="#1a1a1a" stroke-width="1.25" stroke-linecap="butt" stroke-linejoin="miter"/>
<polyline points="485.50,903.50 501.50,887.50" fill="none" stroke="#1a1a1a" stroke-width="1.25" stroke-linecap="butt" stroke-linejoin="miter"/>
<polyline points="478.80,910.50 500.00,910.50" fill="none" stroke="#1a1a1a" stroke-width="1.125" stroke-linecap="butt" stroke-linejoin="miter"/>
<polygon points="395.00,948.80 408.80,956.30 397.50,976.30 379.50,967.00" fill="#fff" stroke="#1a1a1a" stroke-width="1.25" stroke-linecap="butt" stroke-linejoin="miter"/>
<polygon points="391.30,954.50 400.00,959.30 394.50,968.30 385.00,963.00" fill="none" stroke="#1a1a1a" stroke-width="1.25" stroke-linecap="butt" stroke-linejoin="miter"/>
<path d="M380,967.5 Q424,990 463.8,996.3" fill="none" stroke="#1a1a1a" stroke-width="1.25"/>
</g>
<text transform="translate(244.50,725.50) scale(-1,1)" text-anchor="middle" font-size="19" textLength="78.80" lengthAdjust="spacingAndGlyphs" stroke="#1a1a1a" stroke-width="0.35" fill="#1a1a1a">MASTER</text>
<text transform="translate(422.00,742.30) scale(-1,1)" text-anchor="middle" font-size="19" textLength="61.30" lengthAdjust="spacingAndGlyphs" stroke="#1a1a1a" stroke-width="0.35" fill="#1a1a1a">GREAT</text>
<text transform="translate(421.30,764.30) scale(-1,1)" text-anchor="middle" font-size="19" textLength="56.50" lengthAdjust="spacingAndGlyphs" stroke="#1a1a1a" stroke-width="0.35" fill="#1a1a1a">ROOM</text>
<text transform="translate(346.30,814.80) scale(-1,1)" text-anchor="middle" font-size="19" textLength="46.30" lengthAdjust="spacingAndGlyphs" stroke="#1a1a1a" stroke-width="0.35" fill="#1a1a1a">HALL</text>
<text transform="translate(254.00,814.80) scale(-1,1)" text-anchor="middle" font-size="19" textLength="60.00" lengthAdjust="spacingAndGlyphs" stroke="#1a1a1a" stroke-width="0.35" fill="#1a1a1a">PWDR.</text>
<text transform="translate(139.50,879.50) scale(-1,1)" text-anchor="middle" font-size="19" textLength="56.30" lengthAdjust="spacingAndGlyphs" stroke="#1a1a1a" stroke-width="0.35" fill="#1a1a1a">STOR.</text>
<text transform="translate(216.30,897.80) scale(-1,1)" text-anchor="middle" font-size="12.8" textLength="48.00" lengthAdjust="spacingAndGlyphs" stroke="#1a1a1a" stroke-width="0.45" fill="#1a1a1a">BENCH</text>
<text transform="translate(215.50,915.00) scale(-1,1)" text-anchor="middle" font-size="12.6" stroke="#1a1a1a" stroke-width="0.45" fill="#1a1a1a">&amp;</text>
<text transform="translate(216.30,932.00) scale(-1,1)" text-anchor="middle" font-size="12.8" textLength="47.00" lengthAdjust="spacingAndGlyphs" stroke="#1a1a1a" stroke-width="0.45" fill="#1a1a1a">CUBES</text>
<text transform="translate(323.80,897.80) scale(-1,1)" text-anchor="middle" font-size="19" textLength="55.00" lengthAdjust="spacingAndGlyphs" stroke="#1a1a1a" stroke-width="0.35" fill="#1a1a1a">STAIR</text>
<text transform="translate(325.00,919.30) scale(-1,1)" text-anchor="middle" font-size="19" textLength="31.00" lengthAdjust="spacingAndGlyphs" stroke="#1a1a1a" stroke-width="0.35" fill="#1a1a1a">DN.</text>
<text transform="translate(466.30,879.50) scale(-1,1)" text-anchor="middle" font-size="19" textLength="64.30" lengthAdjust="spacingAndGlyphs" stroke="#1a1a1a" stroke-width="0.35" fill="#1a1a1a">FOYER</text>
<text transform="translate(452.00,954.50) scale(-1,1)" text-anchor="middle" font-size="13.2" textLength="50.50" lengthAdjust="spacingAndGlyphs" stroke="#1a1a1a" stroke-width="0.45" fill="#1a1a1a">PORCH</text>
<text transform="translate(252.00,979.50) scale(-1,1)" text-anchor="middle" font-size="13" textLength="31.50" lengthAdjust="spacingAndGlyphs" stroke="#1a1a1a" stroke-width="0.45" fill="#1a1a1a">CLO.</text>
<text transform="translate(177.50,1007.00) scale(-1,1)" text-anchor="middle" font-size="19" textLength="44.00" lengthAdjust="spacingAndGlyphs" stroke="#1a1a1a" stroke-width="0.35" fill="#1a1a1a">GAR.</text>
<text transform="translate(360.50,1038.80) scale(-1,1)" text-anchor="middle" font-size="19" textLength="119.00" lengthAdjust="spacingAndGlyphs" stroke="#1a1a1a" stroke-width="0.35" fill="#1a1a1a">COURTYARD</text>
<ellipse cx="304.75" cy="883.45" rx="195.8" ry="196.1" fill="none" stroke="#1a1a1a" stroke-width="1.5"/>
<g clip-path="url(#ccircC)">
<polyline points="770.60,686.00 889.60,806.50" fill="none" stroke="#2a2a2a" stroke-width="6.8" stroke-linecap="butt" stroke-linejoin="miter"/><polyline points="770.60,686.00 889.60,806.50" fill="none" stroke="#989898" stroke-width="4.80" stroke-linecap="butt" stroke-linejoin="miter"/>
<polyline points="783.00,689.00 812.00,718.00" fill="none" stroke="#1a1a1a" stroke-width="1.25" stroke-linecap="butt" stroke-linejoin="miter"/>
<polyline points="787.50,686.50 815.00,714.00" fill="none" stroke="#1a1a1a" stroke-width="1.25" stroke-linecap="butt" stroke-linejoin="miter"/>
<polyline points="780.00,691.50 809.50,721.00" fill="none" stroke="none" stroke-width="0.0" stroke-linecap="butt" stroke-linejoin="miter"/>
<polyline points="812.50,720.00 841.00,691.50" fill="none" stroke="#2a2a2a" stroke-width="4.8" stroke-linecap="butt" stroke-linejoin="miter"/><polyline points="812.50,720.00 841.00,691.50" fill="none" stroke="#989898" stroke-width="2.80" stroke-linecap="butt" stroke-linejoin="miter"/>
<path d="M829,707 Q836,720 827.5,733" fill="none" stroke="#1a1a1a" stroke-width="1.125" stroke-dasharray="2.5,1.8"/>
<path d="M826,709.5 Q832,721 824.5,731" fill="none" stroke="#1a1a1a" stroke-width="1.125" stroke-dasharray="2.5,1.8"/>
<polyline points="814.00,722.00 826.00,734.00" fill="none" stroke="#1a1a1a" stroke-width="1.25" stroke-linecap="butt" stroke-linejoin="miter"/>
<polygon points="878.80,808.00 887.50,799.30 896.30,808.00 887.50,816.80" fill="#989898" stroke="#1a1a1a" stroke-width="1.25" stroke-linecap="butt" stroke-linejoin="miter"/>
<polygon points="883.30,808.00 887.50,803.80 891.70,808.00 887.50,812.20" fill="#fff" stroke="#1a1a1a" stroke-width="1.0" stroke-linecap="butt" stroke-linejoin="miter"/>
<polyline points="890.00,816.30 927.50,852.50" fill="none" stroke="#1a1a1a" stroke-width="1.25" stroke-linecap="butt" stroke-linejoin="miter"/>
<polyline points="897.50,810.00 935.00,846.30" fill="none" stroke="#1a1a1a" stroke-width="1.25" stroke-linecap="butt" stroke-linejoin="miter"/>
<polygon points="926.00,850.00 933.00,843.00 942.00,852.50 952.50,852.50 952.50,866.30 940.00,866.30" fill="#989898" stroke="#1a1a1a" stroke-width="1.25" stroke-linecap="butt" stroke-linejoin="miter"/>
<polygon points="932.50,849.50 939.50,856.50 948.50,856.50 948.50,861.50 940.00,861.50 930.50,852.00" fill="#fff" stroke="#1a1a1a" stroke-width="1.0" stroke-linecap="butt" stroke-linejoin="miter"/>
<polyline points="952.50,852.50 996.00,852.50" fill="none" stroke="#1a1a1a" stroke-width="1.25" stroke-dasharray="4,2.2" stroke-linecap="butt" stroke-linejoin="miter"/>
<polyline points="943.80,866.30 996.00,866.30" fill="none" stroke="#1a1a1a" stroke-width="1.25" stroke-dasharray="4,2.2" stroke-linecap="butt" stroke-linejoin="miter"/>
<polyline points="943.80,866.30 943.80,926.30" fill="none" stroke="#1a1a1a" stroke-width="1.25" stroke-dasharray="4,2.2" stroke-linecap="butt" stroke-linejoin="miter"/>
<polyline points="878.80,705.00 861.30,721.30 957.50,817.50 990.00,817.50" fill="none" stroke="#1a1a1a" stroke-width="1.125" stroke-dasharray="4,2.2" stroke-linecap="butt" stroke-linejoin="miter"/>
<polyline points="740.00,703.80 757.50,721.30 657.50,822.50 640.00,806.30" fill="none" stroke="#1a1a1a" stroke-width="1.125" stroke-dasharray="9,2.5" stroke-linecap="butt" stroke-linejoin="miter"/>
<polyline points="791.30,766.30 830.00,766.30" fill="none" stroke="#444" stroke-width="1.75" stroke-linecap="butt" stroke-linejoin="miter"/>
<path d="M791.3,766.3 Q792,780 801.3,790" fill="none" stroke="#1a1a1a" stroke-width="1.25"/>
<polyline points="801.30,790.00 831.30,761.30" fill="none" stroke="#1a1a1a" stroke-width="1.125" stroke-linecap="butt" stroke-linejoin="miter"/>
<polyline points="829.50,767.00 838.00,758.50" fill="none" stroke="#2a2a2a" stroke-width="4.2" stroke-linecap="butt" stroke-linejoin="miter"/><polyline points="829.50,767.00 838.00,758.50" fill="none" stroke="#989898" stroke-width="2.20" stroke-linecap="butt" stroke-linejoin="miter"/>
<polyline points="795.00,800.00 803.50,792.50" fill="none" stroke="#2a2a2a" stroke-width="4.2" stroke-linecap="butt" stroke-linejoin="miter"/><polyline points="795.00,800.00 803.50,792.50" fill="none" stroke="#989898" stroke-width="2.20" stroke-linecap="butt" stroke-linejoin="miter"/>
<polyline points="762.90,768.10 620.50,910.50" fill="none" stroke="#2a2a2a" stroke-width="5.3999999999999995" stroke-linecap="butt" stroke-linejoin="miter"/><polyline points="762.90,768.10 620.50,910.50" fill="none" stroke="#989898" stroke-width="3.40" stroke-linecap="butt" stroke-linejoin="miter"/>
<polyline points="619.00,841.00 733.65,955.65" fill="none" stroke="#2a2a2a" stroke-width="6.3999999999999995" stroke-linecap="butt" stroke-linejoin="miter"/><polyline points="619.00,841.00 733.65,955.65" fill="none" stroke="#989898" stroke-width="4.40" stroke-linecap="butt" stroke-linejoin="miter"/>
<polyline points="760.90,768.10 830.40,837.60" fill="none" stroke="#2a2a2a" stroke-width="5.6" stroke-linecap="butt" stroke-linejoin="miter"/><polyline points="760.90,768.10 830.40,837.60" fill="none" stroke="#989898" stroke-width="3.60" stroke-linecap="butt" stroke-linejoin="miter"/>
<polyline points="831.15,836.85 840.80,846.50" fill="none" stroke="#1a1a1a" stroke-width="1.25" stroke-linecap="butt" stroke-linejoin="miter"/>
<polyline points="829.65,838.35 839.30,848.00" fill="none" stroke="#1a1a1a" stroke-width="1.25" stroke-linecap="butt" stroke-linejoin="miter"/>
<polyline points="840.05,847.25 800.25,887.05" fill="none" stroke="#1a1a1a" stroke-width="1.25" stroke-linecap="butt" stroke-linejoin="miter"/>
<polyline points="801.25,886.05 731.65,955.65" fill="none" stroke="#2a2a2a" stroke-width="5.2" stroke-linecap="butt" stroke-linejoin="miter"/><polyline points="801.25,886.05 731.65,955.65" fill="none" stroke="#989898" stroke-width="3.20" stroke-linecap="butt" stroke-linejoin="miter"/>
<polyline points="715.15,817.85 764.15,866.85" fill="none" stroke="#1a1a1a" stroke-width="1.25" stroke-linecap="butt" stroke-linejoin="miter"/>
<polyline points="707.20,825.80 774.70,893.30" fill="none" stroke="#1a1a1a" stroke-width="1.25" stroke-linecap="butt" stroke-linejoin="miter"/>
<polyline points="699.25,833.75 775.25,909.75" fill="none" stroke="#1a1a1a" stroke-width="1.25" stroke-linecap="butt" stroke-linejoin="miter"/>
<polyline points="691.30,841.70 767.30,917.70" fill="none" stroke="#1a1a1a" stroke-width="1.25" stroke-linecap="butt" stroke-linejoin="miter"/>
<polyline points="723.10,809.90 761.95,848.75" fill="none" stroke="#1a1a1a" stroke-width="1.25" stroke-linecap="butt" stroke-linejoin="miter"/>
<polyline points="761.95,848.75 800.75,809.95" fill="none" stroke="#1a1a1a" stroke-width="1.25" stroke-linecap="butt" stroke-linejoin="miter"/>
<polyline points="770.90,855.70 808.70,817.90" fill="none" stroke="#1a1a1a" stroke-width="1.25" stroke-linecap="butt" stroke-linejoin="miter"/>
<polyline points="778.85,863.65 816.65,825.85" fill="none" stroke="#1a1a1a" stroke-width="1.25" stroke-linecap="butt" stroke-linejoin="miter"/>
<polyline points="786.80,871.60 824.60,833.80" fill="none" stroke="#1a1a1a" stroke-width="1.25" stroke-linecap="butt" stroke-linejoin="miter"/>
<polyline points="794.75,879.55 832.55,841.75" fill="none" stroke="#1a1a1a" stroke-width="1.25" stroke-linecap="butt" stroke-linejoin="miter"/>
<polyline points="762.45,848.25 733.95,876.75" fill="none" stroke="#2a2a2a" stroke-width="5.3999999999999995" stroke-linecap="butt" stroke-linejoin="miter"/><polyline points="762.45,848.25 733.95,876.75" fill="none" stroke="#989898" stroke-width="3.40" stroke-linecap="butt" stroke-linejoin="miter"/>
<polyline points="761.45,848.25 800.25,887.05" fill="none" stroke="#2a2a2a" stroke-width="5.3999999999999995" stroke-linecap="butt" stroke-linejoin="miter"/><polyline points="761.45,848.25 800.25,887.05" fill="none" stroke="#989898" stroke-width="3.40" stroke-linecap="butt" stroke-linejoin="miter"/>
<polyline points="733.95,876.75 695.35,915.35" fill="none" stroke="#1a1a1a" stroke-width="1.25" stroke-linecap="butt" stroke-linejoin="miter"/>
<path d="M766,853 Q771,868 771.5,876 Q772,886 782,905" fill="none" stroke="#1a1a1a" stroke-width="1.125"/>
<polyline points="768.50,877.00 775.00,873.50" fill="none" stroke="#1a1a1a" stroke-width="1.25" stroke-linecap="butt" stroke-linejoin="miter"/>
<polyline points="768.00,873.50 775.50,877.50" fill="none" stroke="#1a1a1a" stroke-width="1.0" stroke-linecap="butt" stroke-linejoin="miter"/>
<polyline points="776.00,875.50 796.00,893.00" fill="none" stroke="#1a1a1a" stroke-width="1.125" stroke-dasharray="4,2.2" stroke-linecap="butt" stroke-linejoin="miter"/>
<polyline points="762.00,818.00 723.50,855.50" fill="none" stroke="#1a1a1a" stroke-width="1.25" stroke-linecap="butt" stroke-linejoin="miter"/>
<polyline points="724.00,847.00 723.50,855.50 732.00,855.80" fill="none" stroke="#1a1a1a" stroke-width="1.5" stroke-linecap="butt" stroke-linejoin="miter"/>
<polyline points="785.00,832.00 800.00,847.50" fill="none" stroke="#1a1a1a" stroke-width="1.25" stroke-linecap="butt" stroke-linejoin="miter"/>
<polygon points="651.90,932.70 673.10,954.00 697.20,929.90 676.70,910.10" fill="none" stroke="#1a1a1a" stroke-width="1.25" stroke-linecap="butt" stroke-linejoin="miter"/>
<polyline points="707.50,932.50 673.80,965.00" fill="none" stroke="#2a2a2a" stroke-width="5.6" stroke-linecap="butt" stroke-linejoin="miter"/><polyline points="707.50,932.50 673.80,965.00" fill="none" stroke="#989898" stroke-width="3.60" stroke-linecap="butt" stroke-linejoin="miter"/>
<polyline points="636.30,933.80 705.00,1001.30" fill="none" stroke="#2a2a2a" stroke-width="5.2" stroke-linecap="butt" stroke-linejoin="miter"/><polyline points="636.30,933.80 705.00,1001.30" fill="none" stroke="#989898" stroke-width="3.20" stroke-linecap="butt" stroke-linejoin="miter"/>
<polyline points="631.00,934.50 700.00,1003.00" fill="none" stroke="#1a1a1a" stroke-width="1.125" stroke-linecap="butt" stroke-linejoin="miter"/>
<polyline points="715.00,941.30 682.50,975.00" fill="none" stroke="#1a1a1a" stroke-width="1.125" stroke-linecap="butt" stroke-linejoin="miter"/>
<polyline points="718.00,944.30 685.50,978.00" fill="none" stroke="#1a1a1a" stroke-width="1.125" stroke-linecap="butt" stroke-linejoin="miter"/>
<polyline points="716.50,942.80 684.00,976.50" fill="none" stroke="#1a1a1a" stroke-width="1.0" stroke-dasharray="4,2.2" stroke-linecap="butt" stroke-linejoin="miter"/>
<polyline points="706.30,983.80 737.50,983.80" fill="none" stroke="#555" stroke-width="1.875" stroke-linecap="butt" stroke-linejoin="miter"/>
<path d="M737.5,983.8 Q737,970 728.8,960" fill="none" stroke="#1a1a1a" stroke-width="1.25"/>
<polyline points="706.30,983.80 728.00,961.00" fill="none" stroke="#1a1a1a" stroke-width="1.125" stroke-linecap="butt" stroke-linejoin="miter"/>
<polyline points="698.50,988.00 706.50,981.50" fill="none" stroke="#2a2a2a" stroke-width="4.4" stroke-linecap="butt" stroke-linejoin="miter"/><polyline points="698.50,988.00 706.50,981.50" fill="none" stroke="#989898" stroke-width="2.40" stroke-linecap="butt" stroke-linejoin="miter"/>
<polyline points="727.50,958.00 734.00,952.50" fill="none" stroke="#2a2a2a" stroke-width="4.4" stroke-linecap="butt" stroke-linejoin="miter"/><polyline points="727.50,958.00 734.00,952.50" fill="none" stroke="#989898" stroke-width="2.40" stroke-linecap="butt" stroke-linejoin="miter"/>
<polyline points="706.30,1000.80 743.80,1000.80" fill="none" stroke="#555" stroke-width="2.0" stroke-linecap="butt" stroke-linejoin="miter"/>
<path d="M743.8,1000.8 Q743,1018 732.5,1028.8" fill="none" stroke="#1a1a1a" stroke-width="1.25"/>
<polyline points="731.30,1028.80 755.00,1052.50" fill="none" stroke="#2a2a2a" stroke-width="4.4" stroke-linecap="butt" stroke-linejoin="miter"/><polyline points="731.30,1028.80 755.00,1052.50" fill="none" stroke="#989898" stroke-width="2.40" stroke-linecap="butt" stroke-linejoin="miter"/>
<polyline points="831.30,977.50 757.50,1051.30" fill="none" stroke="#2a2a2a" stroke-width="4.8" stroke-linecap="butt" stroke-linejoin="miter"/><polyline points="831.30,977.50 757.50,1051.30" fill="none" stroke="#989898" stroke-width="2.80" stroke-linecap="butt" stroke-linejoin="miter"/>
<polyline points="812.40,962.50 742.80,1033.60" fill="none" stroke="#1a1a1a" stroke-width="1.25" stroke-linecap="butt" stroke-linejoin="miter"/>
<polyline points="820.50,966.20 803.30,982.20 811.00,990.70" fill="none" stroke="#1a1a1a" stroke-width="1.25" stroke-linecap="butt" stroke-linejoin="miter"/>
<polyline points="772.20,1032.90 762.50,1023.70 747.70,1038.50" fill="none" stroke="#1a1a1a" stroke-width="1.25" stroke-linecap="butt" stroke-linejoin="miter"/>
<polyline points="768.80,1052.50 832.50,987.50 862.30,1019.30 881.30,1000.30" fill="none" stroke="#1a1a1a" stroke-width="1.25" stroke-linecap="butt" stroke-linejoin="miter"/>
<polyline points="881.30,882.50 932.50,933.00" fill="none" stroke="#2a2a2a" stroke-width="6.2" stroke-linecap="butt" stroke-linejoin="miter"/><polyline points="881.30,882.50 932.50,933.00" fill="none" stroke="#989898" stroke-width="4.20" stroke-linecap="butt" stroke-linejoin="miter"/>
<polyline points="881.30,883.20 841.00,923.50" fill="none" stroke="#2a2a2a" stroke-width="4.0" stroke-linecap="butt" stroke-linejoin="miter"/><polyline points="881.30,883.20 841.00,923.50" fill="none" stroke="#989898" stroke-width="2.00" stroke-linecap="butt" stroke-linejoin="miter"/>
<polyline points="840.00,924.50 816.00,948.50" fill="none" stroke="#1a1a1a" stroke-width="1.125" stroke-linecap="butt" stroke-linejoin="miter"/>
<polyline points="838.00,922.00 813.50,946.50" fill="none" stroke="#1a1a1a" stroke-width="1.125" stroke-linecap="butt" stroke-linejoin="miter"/>
<polyline points="809.50,953.00 862.30,1006.60" fill="none" stroke="#2a2a2a" stroke-width="5.0" stroke-linecap="butt" stroke-linejoin="miter"/><polyline points="809.50,953.00 862.30,1006.60" fill="none" stroke="#989898" stroke-width="3.00" stroke-linecap="butt" stroke-linejoin="miter"/>
<polyline points="933.00,931.50 861.00,1007.50" fill="none" stroke="#2a2a2a" stroke-width="4.8" stroke-linecap="butt" stroke-linejoin="miter"/><polyline points="933.00,931.50 861.00,1007.50" fill="none" stroke="#989898" stroke-width="2.80" stroke-linecap="butt" stroke-linejoin="miter"/>
<polyline points="814.80,949.70 849.70,949.70" fill="none" stroke="#555" stroke-width="1.875" stroke-linecap="butt" stroke-linejoin="miter"/>
<polyline points="849.70,943.50 849.70,949.70" fill="none" stroke="#1a1a1a" stroke-width="1.25" stroke-linecap="butt" stroke-linejoin="miter"/>
<polyline points="845.40,983.40 877.10,952.80 895.00,969.70" fill="none" stroke="#1a1a1a" stroke-width="1.25" stroke-linecap="butt" stroke-linejoin="miter"/>
<ellipse cx="870.80" cy="975.00" rx="10.20" ry="7.60" fill="none" stroke="#666" stroke-width="2.0" transform="rotate(-40 870.8 975)"/>
<ellipse cx="870.80" cy="975.00" rx="8.20" ry="5.60" fill="none" stroke="#1a1a1a" stroke-width="0.875" transform="rotate(-40 870.8 975)"/>
<ellipse cx="897.80" cy="936.10" rx="8.60" ry="7.00" fill="none" stroke="#1a1a1a" stroke-width="1.375" transform="rotate(45 897.8 936.1)"/>
<polygon points="915.40,937.50 920.30,943.20 905.50,958.70 899.90,953.00" fill="#fff" stroke="#1a1a1a" stroke-width="1.25" stroke-linecap="butt" stroke-linejoin="miter"/>
<polyline points="903.50,943.50 906.50,946.50" fill="none" stroke="#1a1a1a" stroke-width="1.25" stroke-linecap="butt" stroke-linejoin="miter"/>
<polyline points="907.50,939.50 910.50,942.50" fill="none" stroke="#1a1a1a" stroke-width="1.25" stroke-linecap="butt" stroke-linejoin="miter"/>
<polyline points="927.00,929.30 963.60,929.30" fill="none" stroke="#2a2a2a" stroke-width="7.3999999999999995" stroke-linecap="butt" stroke-linejoin="miter"/><polyline points="927.00,929.30 963.60,929.30" fill="none" stroke="#989898" stroke-width="5.40" stroke-linecap="butt" stroke-linejoin="miter"/>
<polyline points="979.50,929.30 996.00,929.30" fill="none" stroke="#2a2a2a" stroke-width="7.3999999999999995" stroke-linecap="butt" stroke-linejoin="miter"/><polyline points="979.50,929.30 996.00,929.30" fill="none" stroke="#989898" stroke-width="5.40" stroke-linecap="butt" stroke-linejoin="miter"/>
<rect x="963.60" y="926.00" width="15.90" height="6.60" rx="0" fill="#bbb" stroke="#1a1a1a" stroke-width="1.125"/>
<polyline points="963.60,929.30 979.50,929.30" fill="none" stroke="#1a1a1a" stroke-width="0.875" stroke-linecap="butt" stroke-linejoin="miter"/>
<rect x="961.00" y="933.00" width="20.60" height="6.80" rx="0" fill="#fff" stroke="#1a1a1a" stroke-width="1.25"/>
<polyline points="984.00,926.00 984.00,940.00" fill="none" stroke="#1a1a1a" stroke-width="1.125" stroke-linecap="butt" stroke-linejoin="miter"/>
<polygon points="897.20,973.90 913.00,981.30 902.40,1001.40 882.40,991.90" fill="#fff" stroke="#1a1a1a" stroke-width="1.25" stroke-linecap="butt" stroke-linejoin="miter"/>
<polygon points="894.00,979.20 903.50,983.40 899.30,992.90 889.30,988.10" fill="none" stroke="#1a1a1a" stroke-width="1.25" stroke-linecap="butt" stroke-linejoin="miter"/>
<path d="M882.4,993 Q905,1006 932,1013.5" fill="none" stroke="#1a1a1a" stroke-width="1.25"/>
</g>
<text transform="translate(745.00,752.50) scale(-1,1)" text-anchor="middle" font-size="19" textLength="78.00" lengthAdjust="spacingAndGlyphs" stroke="#1a1a1a" stroke-width="0.35" fill="#1a1a1a">MASTER</text>
<text transform="translate(918.00,758.80) scale(-1,1)" text-anchor="middle" font-size="19" textLength="61.80" lengthAdjust="spacingAndGlyphs" stroke="#1a1a1a" stroke-width="0.35" fill="#1a1a1a">GREAT</text>
<text transform="translate(917.50,780.50) scale(-1,1)" text-anchor="middle" font-size="19" textLength="57.50" lengthAdjust="spacingAndGlyphs" stroke="#1a1a1a" stroke-width="0.35" fill="#1a1a1a">ROOM</text>
<text transform="translate(866.80,862.50) scale(-1,1)" text-anchor="middle" font-size="19" textLength="46.30" lengthAdjust="spacingAndGlyphs" stroke="#1a1a1a" stroke-width="0.35" fill="#1a1a1a">HALL</text>
<text transform="translate(966.30,902.00) scale(-1,1)" text-anchor="middle" font-size="19" textLength="63.80" lengthAdjust="spacingAndGlyphs" stroke="#1a1a1a" stroke-width="0.35" fill="#1a1a1a">FOYER</text>
<text transform="translate(761.80,818.50) scale(-1,1)" text-anchor="middle" font-size="19" textLength="54.00" lengthAdjust="spacingAndGlyphs" stroke="#1a1a1a" stroke-width="0.35" fill="#1a1a1a">STAIR</text>
<text transform="translate(761.00,841.00) scale(-1,1)" text-anchor="middle" font-size="19" textLength="30.00" lengthAdjust="spacingAndGlyphs" stroke="#1a1a1a" stroke-width="0.35" fill="#1a1a1a">DN.</text>
<text transform="translate(662.50,928.00) scale(-1,1)" text-anchor="middle" font-size="19" textLength="51.00" lengthAdjust="spacingAndGlyphs" stroke="#1a1a1a" stroke-width="0.35" fill="#1a1a1a">STOR</text>
<text transform="translate(706.10,967.00) scale(-1,1)" text-anchor="middle" font-size="13" textLength="29.00" lengthAdjust="spacingAndGlyphs" stroke="#1a1a1a" stroke-width="0.45" fill="#1a1a1a">CLO.</text>
<text transform="translate(775.00,969.50) scale(-1,1)" text-anchor="middle" font-size="13" textLength="49.00" lengthAdjust="spacingAndGlyphs" stroke="#1a1a1a" stroke-width="0.45" fill="#1a1a1a">BENCH</text>
<text transform="translate(775.00,987.50) scale(-1,1)" text-anchor="middle" font-size="12.6" stroke="#1a1a1a" stroke-width="0.45" fill="#1a1a1a">&amp;</text>
<text transform="translate(775.50,1005.00) scale(-1,1)" text-anchor="middle" font-size="13" textLength="47.30" lengthAdjust="spacingAndGlyphs" stroke="#1a1a1a" stroke-width="0.45" fill="#1a1a1a">CUBES</text>
<text transform="translate(867.00,944.60) scale(-1,1)" text-anchor="middle" font-size="19" textLength="60.00" lengthAdjust="spacingAndGlyphs" stroke="#1a1a1a" stroke-width="0.35" fill="#1a1a1a">PWDR.</text>
<text transform="translate(942.50,972.20) scale(-1,1)" text-anchor="middle" font-size="13.2" textLength="49.80" lengthAdjust="spacingAndGlyphs" stroke="#1a1a1a" stroke-width="0.45" fill="#1a1a1a">PORCH</text>
<ellipse cx="810.5" cy="874.8" rx="185" ry="185.8" fill="none" stroke="#1a1a1a" stroke-width="1.5"/>
<path d="M865.39,514.35 A205,206.8 0 1 0 625.64,375.79" fill="none" stroke="#1a1a1a" stroke-width="1.5"/>
<text transform="translate(532.50,623.80) scale(-1,1)" text-anchor="middle" font-size="36.5" font-weight="bold" textLength="644.00" lengthAdjust="spacingAndGlyphs" stroke="#1a1a1a" stroke-width="0.7" fill="#1a1a1a">OPTIONAL STAIR LOCATIONS FOR</text>
<text transform="translate(533.20,667.20) scale(-1,1)" text-anchor="middle" font-size="36.5" font-weight="bold" textLength="523.00" lengthAdjust="spacingAndGlyphs" stroke="#1a1a1a" stroke-width="0.7" fill="#1a1a1a">BASEMENT MODIFICATIONS</text>
<text transform="translate(277.50,550.70) scale(-1,1)" text-anchor="middle" font-size="17.6" font-weight="bold" textLength="137.00" lengthAdjust="spacingAndGlyphs" stroke="#1a1a1a" stroke-width="0.45" fill="#1a1a1a">LOCATION &quot;B&quot;</text>
<text transform="translate(855.90,548.20) scale(-1,1)" text-anchor="middle" font-size="17.6" font-weight="bold" textLength="136.80" lengthAdjust="spacingAndGlyphs" stroke="#1a1a1a" stroke-width="0.45" fill="#1a1a1a">LOCATION &quot;A&quot;</text>
<text transform="translate(268.10,1107.70) scale(-1,1)" text-anchor="middle" font-size="17.6" font-weight="bold" textLength="137.30" lengthAdjust="spacingAndGlyphs" stroke="#1a1a1a" stroke-width="0.45" fill="#1a1a1a">LOCATION &quot;D&quot;</text>
<text transform="translate(827.50,1091.20) scale(-1,1)" text-anchor="middle" font-size="17.6" font-weight="bold" textLength="137.00" lengthAdjust="spacingAndGlyphs" stroke="#1a1a1a" stroke-width="0.45" fill="#1a1a1a">LOCATION &quot;C&quot;</text>
</g>
</svg></body></html>
